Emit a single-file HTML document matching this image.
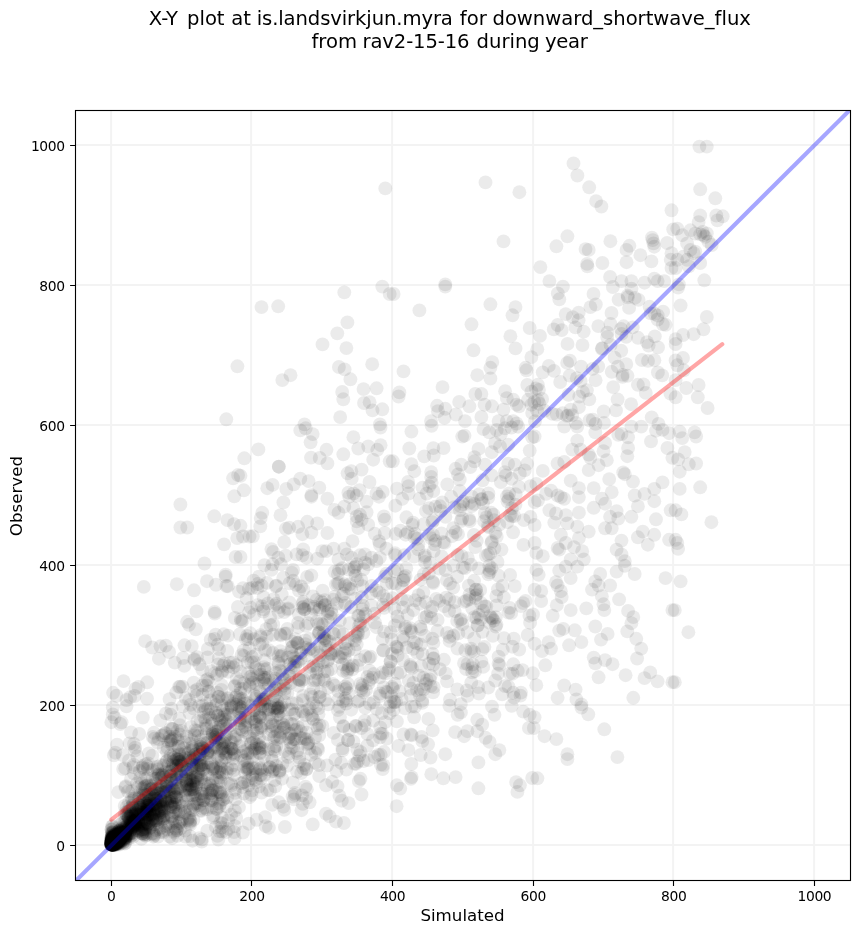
<!DOCTYPE html><html><head><meta charset="utf-8"><style>html,body{margin:0;padding:0;background:#fff}svg{display:block}text{font-family:"DejaVu Sans","Liberation Sans",sans-serif;fill:#000}</style></head><body><svg width="860" height="934" viewBox="0 0 860 934"><rect width="860" height="934" fill="#fff"/><defs><clipPath id="ax"><rect x="75.0" y="110.0" width="775.0" height="770.0"/></clipPath></defs><path d="M111.1 110.0V880.0M75.0 845.1H850.0M251.1 110.0V880.0M75.0 705.1H850.0M392.1 110.0V880.0M75.0 565.1H850.0M533.1 110.0V880.0M75.0 425.1H850.0M673.1 110.0V880.0M75.0 285.1H850.0M814.1 110.0V880.0M75.0 145.1H850.0" stroke="#b0b0b0" stroke-opacity="0.15" stroke-width="2" fill="none"/><g clip-path="url(#ax)"><g class="p" fill="#000" fill-opacity="0.08"><circle cx="483.1" cy="610.6" r="6.95"/><circle cx="125.3" cy="833.6" r="6.95"/><circle cx="200.2" cy="765.3" r="6.95"/><circle cx="429.8" cy="679.5" r="6.95"/><circle cx="310.5" cy="648.4" r="6.95"/><circle cx="200.4" cy="746.6" r="6.95"/><circle cx="133.2" cy="824.3" r="6.95"/><circle cx="111.7" cy="838.9" r="6.95"/><circle cx="522.5" cy="670.1" r="6.95"/><circle cx="665.6" cy="324.8" r="6.95"/><circle cx="252.4" cy="756.9" r="6.95"/><circle cx="376.5" cy="561" r="6.95"/><circle cx="610.4" cy="241.2" r="6.95"/><circle cx="203" cy="748.5" r="6.95"/><circle cx="147" cy="698.6" r="6.95"/><circle cx="245" cy="727.4" r="6.95"/><circle cx="311.1" cy="614.5" r="6.95"/><circle cx="113.6" cy="842.4" r="6.95"/><circle cx="218.4" cy="782.4" r="6.95"/><circle cx="347.9" cy="683.9" r="6.95"/><circle cx="610.1" cy="516.8" r="6.95"/><circle cx="114.1" cy="841.9" r="6.95"/><circle cx="174.8" cy="783.2" r="6.95"/><circle cx="116.1" cy="842.1" r="6.95"/><circle cx="187.3" cy="780.5" r="6.95"/><circle cx="192.1" cy="786.6" r="6.95"/><circle cx="449.4" cy="705.8" r="6.95"/><circle cx="114.4" cy="844.7" r="6.95"/><circle cx="217.1" cy="809" r="6.95"/><circle cx="149.9" cy="810.8" r="6.95"/><circle cx="672.4" cy="682.2" r="6.95"/><circle cx="145.9" cy="764.3" r="6.95"/><circle cx="414.1" cy="556.5" r="6.95"/><circle cx="318.6" cy="679.7" r="6.95"/><circle cx="211.2" cy="671.1" r="6.95"/><circle cx="425" cy="562" r="6.95"/><circle cx="422.2" cy="700.7" r="6.95"/><circle cx="200.2" cy="751.9" r="6.95"/><circle cx="223.8" cy="634.3" r="6.95"/><circle cx="144.2" cy="787.4" r="6.95"/><circle cx="363.5" cy="569.3" r="6.95"/><circle cx="322.9" cy="662.2" r="6.95"/><circle cx="431.3" cy="774.2" r="6.95"/><circle cx="212.2" cy="731.2" r="6.95"/><circle cx="360.5" cy="751.9" r="6.95"/><circle cx="208.6" cy="714.8" r="6.95"/><circle cx="213.5" cy="815.6" r="6.95"/><circle cx="336.9" cy="603.5" r="6.95"/><circle cx="115.1" cy="839.2" r="6.95"/><circle cx="373" cy="740.4" r="6.95"/><circle cx="114" cy="835.7" r="6.95"/><circle cx="262.1" cy="770.1" r="6.95"/><circle cx="324" cy="633" r="6.95"/><circle cx="306.2" cy="798.1" r="6.95"/><circle cx="112.2" cy="838.8" r="6.95"/><circle cx="590.4" cy="307.1" r="6.95"/><circle cx="481.4" cy="417" r="6.95"/><circle cx="116.7" cy="837.9" r="6.95"/><circle cx="544.6" cy="410.8" r="6.95"/><circle cx="221.1" cy="769" r="6.95"/><circle cx="471" cy="564.6" r="6.95"/><circle cx="237.9" cy="607" r="6.95"/><circle cx="225.6" cy="719.5" r="6.95"/><circle cx="176.5" cy="830.5" r="6.95"/><circle cx="379.8" cy="696" r="6.95"/><circle cx="132.5" cy="800.5" r="6.95"/><circle cx="516.1" cy="782.1" r="6.95"/><circle cx="289.4" cy="664.5" r="6.95"/><circle cx="292" cy="703.3" r="6.95"/><circle cx="363.5" cy="389.1" r="6.95"/><circle cx="190.2" cy="779.5" r="6.95"/><circle cx="185.8" cy="780.1" r="6.95"/><circle cx="111.3" cy="842.7" r="6.95"/><circle cx="356.7" cy="644.3" r="6.95"/><circle cx="200.7" cy="721" r="6.95"/><circle cx="562.9" cy="286.6" r="6.95"/><circle cx="345" cy="653" r="6.95"/><circle cx="537.9" cy="500.4" r="6.95"/><circle cx="559.2" cy="570.7" r="6.95"/><circle cx="255.4" cy="721.4" r="6.95"/><circle cx="293.6" cy="739.4" r="6.95"/><circle cx="186.6" cy="783.4" r="6.95"/><circle cx="137.3" cy="756.5" r="6.95"/><circle cx="252.4" cy="775.2" r="6.95"/><circle cx="580.5" cy="449.6" r="6.95"/><circle cx="126.5" cy="814.9" r="6.95"/><circle cx="217.5" cy="792.2" r="6.95"/><circle cx="614.6" cy="357.7" r="6.95"/><circle cx="629.4" cy="245.8" r="6.95"/><circle cx="167.8" cy="807.9" r="6.95"/><circle cx="410.3" cy="664.9" r="6.95"/><circle cx="158.7" cy="739" r="6.95"/><circle cx="211.3" cy="763.8" r="6.95"/><circle cx="226" cy="735.8" r="6.95"/><circle cx="197.4" cy="721.1" r="6.95"/><circle cx="216.4" cy="700.9" r="6.95"/><circle cx="261.4" cy="728.4" r="6.95"/><circle cx="233.2" cy="748.7" r="6.95"/><circle cx="518.1" cy="426.7" r="6.95"/><circle cx="115" cy="834.8" r="6.95"/><circle cx="294.3" cy="739" r="6.95"/><circle cx="588.7" cy="470.1" r="6.95"/><circle cx="389.7" cy="706.5" r="6.95"/><circle cx="291.9" cy="709.4" r="6.95"/><circle cx="227.2" cy="768.3" r="6.95"/><circle cx="120.8" cy="830.9" r="6.95"/><circle cx="669.1" cy="539.8" r="6.95"/><circle cx="643.5" cy="384.5" r="6.95"/><circle cx="316.3" cy="706.1" r="6.95"/><circle cx="514.3" cy="516.1" r="6.95"/><circle cx="267.3" cy="488.2" r="6.95"/><circle cx="241" cy="783.4" r="6.95"/><circle cx="590.4" cy="457.8" r="6.95"/><circle cx="179.9" cy="725.3" r="6.95"/><circle cx="189" cy="624.8" r="6.95"/><circle cx="353.4" cy="508.2" r="6.95"/><circle cx="118.9" cy="840.1" r="6.95"/><circle cx="519.8" cy="473.7" r="6.95"/><circle cx="159.3" cy="818.6" r="6.95"/><circle cx="533.8" cy="728" r="6.95"/><circle cx="569.9" cy="360.7" r="6.95"/><circle cx="363.3" cy="616.4" r="6.95"/><circle cx="445.3" cy="408.8" r="6.95"/><circle cx="113.4" cy="838.8" r="6.95"/><circle cx="261.9" cy="606.1" r="6.95"/><circle cx="228.6" cy="828.9" r="6.95"/><circle cx="256.5" cy="724.4" r="6.95"/><circle cx="176.1" cy="766.3" r="6.95"/><circle cx="380.5" cy="427.5" r="6.95"/><circle cx="318.7" cy="634" r="6.95"/><circle cx="130.7" cy="828.4" r="6.95"/><circle cx="127.5" cy="834.6" r="6.95"/><circle cx="120.8" cy="839" r="6.95"/><circle cx="171.1" cy="803.8" r="6.95"/><circle cx="274.5" cy="605.4" r="6.95"/><circle cx="574" cy="547.1" r="6.95"/><circle cx="250.9" cy="607.7" r="6.95"/><circle cx="541.2" cy="601.1" r="6.95"/><circle cx="111.3" cy="843.2" r="6.95"/><circle cx="700.2" cy="487.3" r="6.95"/><circle cx="621.5" cy="434" r="6.95"/><circle cx="250.2" cy="676.9" r="6.95"/><circle cx="146.2" cy="811.8" r="6.95"/><circle cx="488.3" cy="687.5" r="6.95"/><circle cx="408.5" cy="493.5" r="6.95"/><circle cx="576.4" cy="699.4" r="6.95"/><circle cx="213.2" cy="766.4" r="6.95"/><circle cx="259.2" cy="680.3" r="6.95"/><circle cx="510.1" cy="574.9" r="6.95"/><circle cx="358.8" cy="781.1" r="6.95"/><circle cx="128.9" cy="828.4" r="6.95"/><circle cx="194.5" cy="734" r="6.95"/><circle cx="264.1" cy="756.6" r="6.95"/><circle cx="284.7" cy="633.8" r="6.95"/><circle cx="633.3" cy="617.1" r="6.95"/><circle cx="179.2" cy="802.9" r="6.95"/><circle cx="233.8" cy="753.6" r="6.95"/><circle cx="240.7" cy="707.2" r="6.95"/><circle cx="435.4" cy="506.7" r="6.95"/><circle cx="175.3" cy="779.4" r="6.95"/><circle cx="215.5" cy="739.7" r="6.95"/><circle cx="430.9" cy="538.2" r="6.95"/><circle cx="478.8" cy="614.9" r="6.95"/><circle cx="688.4" cy="632.2" r="6.95"/><circle cx="336.5" cy="771.2" r="6.95"/><circle cx="219.6" cy="831.4" r="6.95"/><circle cx="164.8" cy="777.4" r="6.95"/><circle cx="116.7" cy="835.6" r="6.95"/><circle cx="268.8" cy="650.2" r="6.95"/><circle cx="414.1" cy="717.3" r="6.95"/><circle cx="184.3" cy="748.3" r="6.95"/><circle cx="392.1" cy="653.6" r="6.95"/><circle cx="146" cy="823.3" r="6.95"/><circle cx="238.1" cy="475" r="6.95"/><circle cx="271.4" cy="569.9" r="6.95"/><circle cx="264.8" cy="677.8" r="6.95"/><circle cx="240.5" cy="557" r="6.95"/><circle cx="147.2" cy="682.3" r="6.95"/><circle cx="488.4" cy="574.4" r="6.95"/><circle cx="147" cy="811.8" r="6.95"/><circle cx="379" cy="541.2" r="6.95"/><circle cx="247.3" cy="753.4" r="6.95"/><circle cx="385.3" cy="188.4" r="6.95"/><circle cx="248.1" cy="780.8" r="6.95"/><circle cx="416.4" cy="643.3" r="6.95"/><circle cx="240.5" cy="693" r="6.95"/><circle cx="222.1" cy="698.1" r="6.95"/><circle cx="111.3" cy="843.2" r="6.95"/><circle cx="112.5" cy="833.7" r="6.95"/><circle cx="164.3" cy="810.3" r="6.95"/><circle cx="506.8" cy="421.1" r="6.95"/><circle cx="158" cy="836.5" r="6.95"/><circle cx="623.6" cy="326.3" r="6.95"/><circle cx="200.1" cy="810.7" r="6.95"/><circle cx="202.6" cy="705.7" r="6.95"/><circle cx="582.2" cy="551.2" r="6.95"/><circle cx="374.8" cy="533.8" r="6.95"/><circle cx="481" cy="603" r="6.95"/><circle cx="131" cy="732.4" r="6.95"/><circle cx="152.8" cy="737" r="6.95"/><circle cx="305.7" cy="428.3" r="6.95"/><circle cx="277.2" cy="683.9" r="6.95"/><circle cx="411.9" cy="632.2" r="6.95"/><circle cx="242.9" cy="832.5" r="6.95"/><circle cx="169.3" cy="800.5" r="6.95"/><circle cx="112.3" cy="844.3" r="6.95"/><circle cx="501.5" cy="549.6" r="6.95"/><circle cx="143" cy="765.8" r="6.95"/><circle cx="117.3" cy="836.7" r="6.95"/><circle cx="483" cy="503.3" r="6.95"/><circle cx="130.8" cy="816.4" r="6.95"/><circle cx="280.7" cy="635.4" r="6.95"/><circle cx="564.2" cy="498.8" r="6.95"/><circle cx="244.4" cy="781.9" r="6.95"/><circle cx="437.9" cy="411.2" r="6.95"/><circle cx="445.4" cy="516.9" r="6.95"/><circle cx="204.7" cy="807.5" r="6.95"/><circle cx="133.1" cy="767.1" r="6.95"/><circle cx="428.4" cy="718.9" r="6.95"/><circle cx="116.7" cy="839" r="6.95"/><circle cx="346.4" cy="348.1" r="6.95"/><circle cx="150.5" cy="785.4" r="6.95"/><circle cx="165.8" cy="645.7" r="6.95"/><circle cx="112.7" cy="844.7" r="6.95"/><circle cx="246.7" cy="749.9" r="6.95"/><circle cx="145" cy="798.2" r="6.95"/><circle cx="593.7" cy="657.6" r="6.95"/><circle cx="634.7" cy="495.5" r="6.95"/><circle cx="129.3" cy="833.7" r="6.95"/><circle cx="136.4" cy="820.6" r="6.95"/><circle cx="119.1" cy="836.6" r="6.95"/><circle cx="254" cy="615" r="6.95"/><circle cx="358.3" cy="528" r="6.95"/><circle cx="243.3" cy="751.5" r="6.95"/><circle cx="224.1" cy="544.4" r="6.95"/><circle cx="401.6" cy="599.3" r="6.95"/><circle cx="112.2" cy="837.4" r="6.95"/><circle cx="119" cy="838.9" r="6.95"/><circle cx="119.5" cy="835.2" r="6.95"/><circle cx="117.3" cy="841" r="6.95"/><circle cx="142.1" cy="833.3" r="6.95"/><circle cx="120.1" cy="837.3" r="6.95"/><circle cx="611.5" cy="313" r="6.95"/><circle cx="275.1" cy="736.4" r="6.95"/><circle cx="638.6" cy="299.9" r="6.95"/><circle cx="469.4" cy="599.2" r="6.95"/><circle cx="310.5" cy="694.5" r="6.95"/><circle cx="119.7" cy="832.7" r="6.95"/><circle cx="621" cy="328.9" r="6.95"/><circle cx="454.8" cy="602.1" r="6.95"/><circle cx="265.2" cy="817.1" r="6.95"/><circle cx="145.2" cy="789.5" r="6.95"/><circle cx="116.9" cy="841.5" r="6.95"/><circle cx="112.2" cy="837.1" r="6.95"/><circle cx="180.2" cy="811.3" r="6.95"/><circle cx="298.1" cy="661.7" r="6.95"/><circle cx="489.9" cy="616.1" r="6.95"/><circle cx="215.6" cy="712.8" r="6.95"/><circle cx="328.3" cy="687.7" r="6.95"/><circle cx="251.1" cy="705.7" r="6.95"/><circle cx="262.3" cy="706.4" r="6.95"/><circle cx="260.2" cy="727.3" r="6.95"/><circle cx="394.5" cy="702.3" r="6.95"/><circle cx="134.3" cy="830.4" r="6.95"/><circle cx="221.6" cy="744.2" r="6.95"/><circle cx="131.4" cy="835.7" r="6.95"/><circle cx="207.9" cy="751.8" r="6.95"/><circle cx="299.3" cy="757.6" r="6.95"/><circle cx="235.1" cy="792.9" r="6.95"/><circle cx="222.1" cy="748.8" r="6.95"/><circle cx="252.6" cy="682.8" r="6.95"/><circle cx="223" cy="665.7" r="6.95"/><circle cx="274" cy="749.5" r="6.95"/><circle cx="360.2" cy="684" r="6.95"/><circle cx="213" cy="790.4" r="6.95"/><circle cx="225.3" cy="757.4" r="6.95"/><circle cx="403" cy="636.9" r="6.95"/><circle cx="195.7" cy="776.7" r="6.95"/><circle cx="557.6" cy="585.5" r="6.95"/><circle cx="359.2" cy="625.2" r="6.95"/><circle cx="116.4" cy="839.1" r="6.95"/><circle cx="523.5" cy="544.9" r="6.95"/><circle cx="477.3" cy="731.2" r="6.95"/><circle cx="382.7" cy="769" r="6.95"/><circle cx="116.5" cy="843" r="6.95"/><circle cx="179.5" cy="734.4" r="6.95"/><circle cx="476.9" cy="594.2" r="6.95"/><circle cx="132.7" cy="826.7" r="6.95"/><circle cx="497.5" cy="562" r="6.95"/><circle cx="147.3" cy="798.9" r="6.95"/><circle cx="433.1" cy="692.4" r="6.95"/><circle cx="354.4" cy="763.9" r="6.95"/><circle cx="268.6" cy="734.4" r="6.95"/><circle cx="210.4" cy="752.9" r="6.95"/><circle cx="469" cy="519.2" r="6.95"/><circle cx="384.1" cy="631.6" r="6.95"/><circle cx="164.6" cy="792" r="6.95"/><circle cx="163.9" cy="765.3" r="6.95"/><circle cx="324.8" cy="600.1" r="6.95"/><circle cx="431.2" cy="472.1" r="6.95"/><circle cx="120.6" cy="835.5" r="6.95"/><circle cx="135.2" cy="824.4" r="6.95"/><circle cx="368.2" cy="564.3" r="6.95"/><circle cx="677.3" cy="228.6" r="6.95"/><circle cx="595.3" cy="581.4" r="6.95"/><circle cx="210.5" cy="798.4" r="6.95"/><circle cx="383.4" cy="765.1" r="6.95"/><circle cx="481.4" cy="394" r="6.95"/><circle cx="155" cy="812.8" r="6.95"/><circle cx="207.9" cy="789.3" r="6.95"/><circle cx="379.3" cy="592.6" r="6.95"/><circle cx="481.4" cy="661.6" r="6.95"/><circle cx="621.5" cy="540.6" r="6.95"/><circle cx="259.8" cy="746.6" r="6.95"/><circle cx="361.8" cy="597.1" r="6.95"/><circle cx="186" cy="779.2" r="6.95"/><circle cx="604" cy="422.9" r="6.95"/><circle cx="671.5" cy="253.2" r="6.95"/><circle cx="120.8" cy="832" r="6.95"/><circle cx="255.4" cy="699" r="6.95"/><circle cx="216.2" cy="808.9" r="6.95"/><circle cx="263.5" cy="597.1" r="6.95"/><circle cx="376.6" cy="388.3" r="6.95"/><circle cx="121.4" cy="839.9" r="6.95"/><circle cx="460.4" cy="620.2" r="6.95"/><circle cx="199.3" cy="754.9" r="6.95"/><circle cx="355.6" cy="598.7" r="6.95"/><circle cx="356" cy="726.3" r="6.95"/><circle cx="135.2" cy="747.7" r="6.95"/><circle cx="185.5" cy="758" r="6.95"/><circle cx="221.3" cy="761.6" r="6.95"/><circle cx="111.9" cy="841.9" r="6.95"/><circle cx="207.6" cy="657.5" r="6.95"/><circle cx="171.1" cy="796.6" r="6.95"/><circle cx="527.3" cy="385" r="6.95"/><circle cx="598.6" cy="465.2" r="6.95"/><circle cx="179.7" cy="791.3" r="6.95"/><circle cx="166.2" cy="786" r="6.95"/><circle cx="354.1" cy="567.8" r="6.95"/><circle cx="112.9" cy="843.8" r="6.95"/><circle cx="122.3" cy="835" r="6.95"/><circle cx="114.7" cy="839.8" r="6.95"/><circle cx="415" cy="706.6" r="6.95"/><circle cx="593.5" cy="293.9" r="6.95"/><circle cx="125.5" cy="837.5" r="6.95"/><circle cx="132.2" cy="826.9" r="6.95"/><circle cx="292" cy="647.5" r="6.95"/><circle cx="174.5" cy="792.4" r="6.95"/><circle cx="309.3" cy="748.5" r="6.95"/><circle cx="118.4" cy="839.4" r="6.95"/><circle cx="198.4" cy="775.2" r="6.95"/><circle cx="680.6" cy="581.4" r="6.95"/><circle cx="171.5" cy="708.7" r="6.95"/><circle cx="139.4" cy="822.8" r="6.95"/><circle cx="219.9" cy="792.6" r="6.95"/><circle cx="181.6" cy="786" r="6.95"/><circle cx="351.3" cy="589.1" r="6.95"/><circle cx="379.8" cy="544.5" r="6.95"/><circle cx="203.6" cy="800.3" r="6.95"/><circle cx="485.1" cy="464.6" r="6.95"/><circle cx="155.2" cy="815.4" r="6.95"/><circle cx="322.6" cy="602.9" r="6.95"/><circle cx="278.2" cy="661.9" r="6.95"/><circle cx="153.1" cy="794.4" r="6.95"/><circle cx="239.3" cy="706.1" r="6.95"/><circle cx="180.3" cy="788" r="6.95"/><circle cx="711.7" cy="245" r="6.95"/><circle cx="111.3" cy="843.7" r="6.95"/><circle cx="402.3" cy="498.8" r="6.95"/><circle cx="380.3" cy="727.5" r="6.95"/><circle cx="601" cy="639.6" r="6.95"/><circle cx="148.2" cy="806" r="6.95"/><circle cx="119.1" cy="838.2" r="6.95"/><circle cx="498.6" cy="421.1" r="6.95"/><circle cx="239.3" cy="681.5" r="6.95"/><circle cx="178.5" cy="762.3" r="6.95"/><circle cx="494.1" cy="520.3" r="6.95"/><circle cx="654.4" cy="360.2" r="6.95"/><circle cx="207.6" cy="679.2" r="6.95"/><circle cx="114.3" cy="841.1" r="6.95"/><circle cx="147.4" cy="806" r="6.95"/><circle cx="319.2" cy="632.5" r="6.95"/><circle cx="242.7" cy="620.7" r="6.95"/><circle cx="363.5" cy="761" r="6.95"/><circle cx="295.2" cy="713.6" r="6.95"/><circle cx="260.8" cy="748.3" r="6.95"/><circle cx="471.4" cy="651.2" r="6.95"/><circle cx="355.6" cy="575.6" r="6.95"/><circle cx="226.4" cy="753.9" r="6.95"/><circle cx="311.2" cy="754.9" r="6.95"/><circle cx="319.2" cy="735.4" r="6.95"/><circle cx="111.7" cy="838.5" r="6.95"/><circle cx="118.6" cy="841.6" r="6.95"/><circle cx="114.9" cy="838.4" r="6.95"/><circle cx="233.5" cy="704" r="6.95"/><circle cx="397" cy="488.6" r="6.95"/><circle cx="129.5" cy="820.8" r="6.95"/><circle cx="267.8" cy="690.2" r="6.95"/><circle cx="157.6" cy="766.6" r="6.95"/><circle cx="111.9" cy="839.1" r="6.95"/><circle cx="503.5" cy="409.6" r="6.95"/><circle cx="418.3" cy="549.3" r="6.95"/><circle cx="382.7" cy="638.8" r="6.95"/><circle cx="223.1" cy="710.4" r="6.95"/><circle cx="251.9" cy="656.9" r="6.95"/><circle cx="260" cy="775.2" r="6.95"/><circle cx="211.7" cy="790.6" r="6.95"/><circle cx="279.6" cy="770.4" r="6.95"/><circle cx="189.6" cy="808.3" r="6.95"/><circle cx="133.5" cy="815.3" r="6.95"/><circle cx="135.4" cy="818.9" r="6.95"/><circle cx="150.7" cy="805.5" r="6.95"/><circle cx="645.8" cy="392.9" r="6.95"/><circle cx="125.4" cy="787.3" r="6.95"/><circle cx="275.3" cy="678.6" r="6.95"/><circle cx="308" cy="743.3" r="6.95"/><circle cx="163" cy="816.7" r="6.95"/><circle cx="311.3" cy="575.4" r="6.95"/><circle cx="684.7" cy="452.1" r="6.95"/><circle cx="112.7" cy="844.7" r="6.95"/><circle cx="722.7" cy="216.3" r="6.95"/><circle cx="337.9" cy="710.1" r="6.95"/><circle cx="519.9" cy="785.3" r="6.95"/><circle cx="686.3" cy="388" r="6.95"/><circle cx="449.1" cy="610.8" r="6.95"/><circle cx="399.6" cy="691.1" r="6.95"/><circle cx="138.5" cy="686.9" r="6.95"/><circle cx="142.2" cy="833.4" r="6.95"/><circle cx="624.8" cy="565.8" r="6.95"/><circle cx="308.2" cy="623.2" r="6.95"/><circle cx="295" cy="665.6" r="6.95"/><circle cx="445.3" cy="286.6" r="6.95"/><circle cx="476.8" cy="540.8" r="6.95"/><circle cx="199.1" cy="764.6" r="6.95"/><circle cx="461.3" cy="464.6" r="6.95"/><circle cx="192.9" cy="781.2" r="6.95"/><circle cx="125.1" cy="835.3" r="6.95"/><circle cx="187.4" cy="820" r="6.95"/><circle cx="272" cy="731.2" r="6.95"/><circle cx="495" cy="443.2" r="6.95"/><circle cx="578.6" cy="320.3" r="6.95"/><circle cx="227.4" cy="520.1" r="6.95"/><circle cx="495.5" cy="532.8" r="6.95"/><circle cx="131.7" cy="835.1" r="6.95"/><circle cx="292.9" cy="656.2" r="6.95"/><circle cx="137.1" cy="816.9" r="6.95"/><circle cx="114.7" cy="842.1" r="6.95"/><circle cx="371.7" cy="586" r="6.95"/><circle cx="140.5" cy="813.9" r="6.95"/><circle cx="111.8" cy="842.8" r="6.95"/><circle cx="631.4" cy="281.1" r="6.95"/><circle cx="143.8" cy="834.9" r="6.95"/><circle cx="191" cy="769.7" r="6.95"/><circle cx="605.1" cy="503.7" r="6.95"/><circle cx="509.1" cy="493.5" r="6.95"/><circle cx="188.4" cy="753.3" r="6.95"/><circle cx="534.6" cy="543" r="6.95"/><circle cx="433.4" cy="658.8" r="6.95"/><circle cx="361.6" cy="469.6" r="6.95"/><circle cx="609.2" cy="479.1" r="6.95"/><circle cx="534.6" cy="717.3" r="6.95"/><circle cx="175.4" cy="804.1" r="6.95"/><circle cx="217.6" cy="756.4" r="6.95"/><circle cx="298.7" cy="679.2" r="6.95"/><circle cx="231" cy="783.7" r="6.95"/><circle cx="626.2" cy="336.8" r="6.95"/><circle cx="221.7" cy="705.4" r="6.95"/><circle cx="311.4" cy="532.6" r="6.95"/><circle cx="275.8" cy="586.3" r="6.95"/><circle cx="491.9" cy="541.3" r="6.95"/><circle cx="115.7" cy="839.1" r="6.95"/><circle cx="115.8" cy="835.2" r="6.95"/><circle cx="112.1" cy="843.5" r="6.95"/><circle cx="559.3" cy="299.3" r="6.95"/><circle cx="342.5" cy="748.4" r="6.95"/><circle cx="223.2" cy="725.1" r="6.95"/><circle cx="218.4" cy="748.3" r="6.95"/><circle cx="133.2" cy="836.7" r="6.95"/><circle cx="258.4" cy="449.4" r="6.95"/><circle cx="143.6" cy="768.8" r="6.95"/><circle cx="575.6" cy="689.6" r="6.95"/><circle cx="208.4" cy="691.1" r="6.95"/><circle cx="112.6" cy="835.1" r="6.95"/><circle cx="565.7" cy="314.1" r="6.95"/><circle cx="114.5" cy="842" r="6.95"/><circle cx="533" cy="614.5" r="6.95"/><circle cx="180.7" cy="771.1" r="6.95"/><circle cx="226.7" cy="772.4" r="6.95"/><circle cx="455.6" cy="468.8" r="6.95"/><circle cx="112.2" cy="841.4" r="6.95"/><circle cx="567.2" cy="362.9" r="6.95"/><circle cx="230.2" cy="725.3" r="6.95"/><circle cx="152.4" cy="770.2" r="6.95"/><circle cx="247.1" cy="636" r="6.95"/><circle cx="532.2" cy="778" r="6.95"/><circle cx="122.7" cy="755.2" r="6.95"/><circle cx="458" cy="534.2" r="6.95"/><circle cx="413.8" cy="642.1" r="6.95"/><circle cx="276.8" cy="704.9" r="6.95"/><circle cx="213" cy="768.6" r="6.95"/><circle cx="478.2" cy="687" r="6.95"/><circle cx="171.9" cy="787.8" r="6.95"/><circle cx="379.6" cy="677.4" r="6.95"/><circle cx="113.5" cy="838.1" r="6.95"/><circle cx="489.7" cy="572.3" r="6.95"/><circle cx="122.9" cy="842.8" r="6.95"/><circle cx="122" cy="829.2" r="6.95"/><circle cx="583.8" cy="559.4" r="6.95"/><circle cx="430.7" cy="611.3" r="6.95"/><circle cx="287.8" cy="609.5" r="6.95"/><circle cx="454.2" cy="507.2" r="6.95"/><circle cx="433.4" cy="642.9" r="6.95"/><circle cx="193.1" cy="804.9" r="6.95"/><circle cx="682.2" cy="438.1" r="6.95"/><circle cx="442.2" cy="502.4" r="6.95"/><circle cx="222.5" cy="796.4" r="6.95"/><circle cx="511.5" cy="478.7" r="6.95"/><circle cx="170.6" cy="775.4" r="6.95"/><circle cx="184.6" cy="812" r="6.95"/><circle cx="148.2" cy="805.1" r="6.95"/><circle cx="111.3" cy="842.7" r="6.95"/><circle cx="537.4" cy="778.3" r="6.95"/><circle cx="123.2" cy="769" r="6.95"/><circle cx="506.8" cy="398.1" r="6.95"/><circle cx="161" cy="801.7" r="6.95"/><circle cx="589.5" cy="420.3" r="6.95"/><circle cx="244.3" cy="458.3" r="6.95"/><circle cx="197.3" cy="730.6" r="6.95"/><circle cx="130.7" cy="821.5" r="6.95"/><circle cx="112.7" cy="844.7" r="6.95"/><circle cx="423.6" cy="689.4" r="6.95"/><circle cx="266.5" cy="723" r="6.95"/><circle cx="126.6" cy="807.2" r="6.95"/><circle cx="508.7" cy="499" r="6.95"/><circle cx="263.2" cy="611.5" r="6.95"/><circle cx="265.1" cy="679.6" r="6.95"/><circle cx="220.5" cy="725.8" r="6.95"/><circle cx="354.6" cy="649.4" r="6.95"/><circle cx="380.8" cy="764.6" r="6.95"/><circle cx="284.4" cy="702" r="6.95"/><circle cx="163.5" cy="815.6" r="6.95"/><circle cx="126" cy="830.2" r="6.95"/><circle cx="298.9" cy="590.6" r="6.95"/><circle cx="173.2" cy="790.5" r="6.95"/><circle cx="403.1" cy="607.4" r="6.95"/><circle cx="187.4" cy="785.5" r="6.95"/><circle cx="216.8" cy="735.1" r="6.95"/><circle cx="534.6" cy="643.7" r="6.95"/><circle cx="112.7" cy="841.1" r="6.95"/><circle cx="715.3" cy="198.3" r="6.95"/><circle cx="133.2" cy="808.2" r="6.95"/><circle cx="259.9" cy="769.1" r="6.95"/><circle cx="147.4" cy="814.9" r="6.95"/><circle cx="431.6" cy="425.8" r="6.95"/><circle cx="344.3" cy="292.4" r="6.95"/><circle cx="215.9" cy="827.2" r="6.95"/><circle cx="293.1" cy="569.9" r="6.95"/><circle cx="124.7" cy="839.7" r="6.95"/><circle cx="316.9" cy="621.7" r="6.95"/><circle cx="224.2" cy="743.6" r="6.95"/><circle cx="257.4" cy="587.9" r="6.95"/><circle cx="269" cy="684.8" r="6.95"/><circle cx="140.4" cy="806" r="6.95"/><circle cx="203" cy="751.2" r="6.95"/><circle cx="129" cy="813.5" r="6.95"/><circle cx="195" cy="803.6" r="6.95"/><circle cx="217.3" cy="692.8" r="6.95"/><circle cx="195.1" cy="730.2" r="6.95"/><circle cx="283.4" cy="502.4" r="6.95"/><circle cx="114.8" cy="839.5" r="6.95"/><circle cx="240.7" cy="688.7" r="6.95"/><circle cx="117.6" cy="840.1" r="6.95"/><circle cx="118.8" cy="842.3" r="6.95"/><circle cx="140.6" cy="825.3" r="6.95"/><circle cx="157.1" cy="818.1" r="6.95"/><circle cx="636.3" cy="638.8" r="6.95"/><circle cx="385" cy="576.4" r="6.95"/><circle cx="227.2" cy="697.7" r="6.95"/><circle cx="433.7" cy="687.1" r="6.95"/><circle cx="411.3" cy="764" r="6.95"/><circle cx="616.6" cy="511.1" r="6.95"/><circle cx="115.4" cy="834.8" r="6.95"/><circle cx="167.6" cy="747.9" r="6.95"/><circle cx="234.2" cy="752.4" r="6.95"/><circle cx="588.3" cy="714.3" r="6.95"/><circle cx="192.5" cy="795.2" r="6.95"/><circle cx="278.8" cy="466.7" r="6.95"/><circle cx="335.9" cy="584.5" r="6.95"/><circle cx="120" cy="839.3" r="6.95"/><circle cx="192.9" cy="773.2" r="6.95"/><circle cx="307.1" cy="577" r="6.95"/><circle cx="240.5" cy="525.8" r="6.95"/><circle cx="121.7" cy="834.3" r="6.95"/><circle cx="126.4" cy="828" r="6.95"/><circle cx="161.6" cy="787" r="6.95"/><circle cx="177.2" cy="774.5" r="6.95"/><circle cx="144.5" cy="831" r="6.95"/><circle cx="141.3" cy="831.6" r="6.95"/><circle cx="310.6" cy="442.3" r="6.95"/><circle cx="394.9" cy="625.5" r="6.95"/><circle cx="187.2" cy="527.5" r="6.95"/><circle cx="264.4" cy="703.6" r="6.95"/><circle cx="602.3" cy="348.2" r="6.95"/><circle cx="126.9" cy="830.4" r="6.95"/><circle cx="275" cy="726" r="6.95"/><circle cx="556" cy="582.2" r="6.95"/><circle cx="117.2" cy="836.6" r="6.95"/><circle cx="250.3" cy="633.3" r="6.95"/><circle cx="277" cy="715" r="6.95"/><circle cx="249.7" cy="736.4" r="6.95"/><circle cx="331.1" cy="669.2" r="6.95"/><circle cx="244.6" cy="720.1" r="6.95"/><circle cx="403.2" cy="660.1" r="6.95"/><circle cx="270" cy="790.4" r="6.95"/><circle cx="171.7" cy="771" r="6.95"/><circle cx="111.8" cy="832.4" r="6.95"/><circle cx="233.9" cy="774.7" r="6.95"/><circle cx="178.2" cy="746.4" r="6.95"/><circle cx="338.3" cy="691.1" r="6.95"/><circle cx="583.7" cy="331.6" r="6.95"/><circle cx="415.1" cy="600.3" r="6.95"/><circle cx="264.1" cy="701.7" r="6.95"/><circle cx="282.4" cy="763.7" r="6.95"/><circle cx="166.4" cy="791.6" r="6.95"/><circle cx="115.9" cy="844.7" r="6.95"/><circle cx="677.3" cy="259.8" r="6.95"/><circle cx="530.4" cy="516.9" r="6.95"/><circle cx="369.6" cy="703.7" r="6.95"/><circle cx="618.6" cy="299.7" r="6.95"/><circle cx="258.9" cy="576.7" r="6.95"/><circle cx="166.9" cy="785.4" r="6.95"/><circle cx="222.3" cy="831.5" r="6.95"/><circle cx="278.4" cy="557.7" r="6.95"/><circle cx="580.6" cy="380.9" r="6.95"/><circle cx="197.7" cy="778.8" r="6.95"/><circle cx="121.8" cy="836.8" r="6.95"/><circle cx="118.3" cy="837.5" r="6.95"/><circle cx="160.5" cy="786" r="6.95"/><circle cx="112.6" cy="839.5" r="6.95"/><circle cx="683.8" cy="256.5" r="6.95"/><circle cx="317.2" cy="558.6" r="6.95"/><circle cx="113.6" cy="844.5" r="6.95"/><circle cx="171.5" cy="815.9" r="6.95"/><circle cx="111.3" cy="842.4" r="6.95"/><circle cx="289.5" cy="583.3" r="6.95"/><circle cx="433.5" cy="658.1" r="6.95"/><circle cx="441.5" cy="533.4" r="6.95"/><circle cx="354.1" cy="571.2" r="6.95"/><circle cx="111.4" cy="842.9" r="6.95"/><circle cx="252.3" cy="675.3" r="6.95"/><circle cx="256.6" cy="744.4" r="6.95"/><circle cx="128.7" cy="818.4" r="6.95"/><circle cx="293.4" cy="667.2" r="6.95"/><circle cx="121.6" cy="722.3" r="6.95"/><circle cx="617.6" cy="399.5" r="6.95"/><circle cx="142" cy="783.6" r="6.95"/><circle cx="588.7" cy="454.5" r="6.95"/><circle cx="489.4" cy="570.2" r="6.95"/><circle cx="117.4" cy="836.7" r="6.95"/><circle cx="231.2" cy="814.8" r="6.95"/><circle cx="148" cy="824" r="6.95"/><circle cx="341.1" cy="762.8" r="6.95"/><circle cx="200.4" cy="765.5" r="6.95"/><circle cx="111.5" cy="841.7" r="6.95"/><circle cx="578.9" cy="512.7" r="6.95"/><circle cx="127.2" cy="833.3" r="6.95"/><circle cx="334.9" cy="685.6" r="6.95"/><circle cx="221.6" cy="827.5" r="6.95"/><circle cx="394.5" cy="608.7" r="6.95"/><circle cx="197.4" cy="777" r="6.95"/><circle cx="648" cy="360.9" r="6.95"/><circle cx="688.8" cy="266.3" r="6.95"/><circle cx="160.4" cy="819.1" r="6.95"/><circle cx="461.2" cy="619.2" r="6.95"/><circle cx="240.3" cy="671.6" r="6.95"/><circle cx="260.3" cy="526.4" r="6.95"/><circle cx="283.4" cy="806.7" r="6.95"/><circle cx="507.3" cy="522" r="6.95"/><circle cx="129" cy="802.6" r="6.95"/><circle cx="576.8" cy="378.2" r="6.95"/><circle cx="112.5" cy="840.1" r="6.95"/><circle cx="347.6" cy="473.3" r="6.95"/><circle cx="344.3" cy="506.6" r="6.95"/><circle cx="422.4" cy="702.8" r="6.95"/><circle cx="253.6" cy="722.3" r="6.95"/><circle cx="118.7" cy="837.8" r="6.95"/><circle cx="367.3" cy="745.7" r="6.95"/><circle cx="281.5" cy="705.4" r="6.95"/><circle cx="578.9" cy="497.1" r="6.95"/><circle cx="113.3" cy="844" r="6.95"/><circle cx="462.4" cy="624.2" r="6.95"/><circle cx="508.4" cy="612.6" r="6.95"/><circle cx="475.5" cy="598.1" r="6.95"/><circle cx="280.7" cy="706.8" r="6.95"/><circle cx="124.2" cy="828" r="6.95"/><circle cx="116.6" cy="839.6" r="6.95"/><circle cx="245" cy="725.9" r="6.95"/><circle cx="189.3" cy="757.3" r="6.95"/><circle cx="172.4" cy="764.5" r="6.95"/><circle cx="134.2" cy="821.7" r="6.95"/><circle cx="216.2" cy="712.9" r="6.95"/><circle cx="400.5" cy="530.7" r="6.95"/><circle cx="138.1" cy="825" r="6.95"/><circle cx="165.5" cy="825.9" r="6.95"/><circle cx="113.3" cy="842.1" r="6.95"/><circle cx="118.9" cy="836" r="6.95"/><circle cx="112.1" cy="843.4" r="6.95"/><circle cx="662.2" cy="375.4" r="6.95"/><circle cx="618.3" cy="434.8" r="6.95"/><circle cx="683" cy="335" r="6.95"/><circle cx="290.5" cy="664.1" r="6.95"/><circle cx="206.1" cy="725.5" r="6.95"/><circle cx="301.8" cy="680.7" r="6.95"/><circle cx="560.2" cy="382" r="6.95"/><circle cx="530.5" cy="486.1" r="6.95"/><circle cx="531.4" cy="404.7" r="6.95"/><circle cx="210.9" cy="708.6" r="6.95"/><circle cx="179.8" cy="761.5" r="6.95"/><circle cx="654.3" cy="488.9" r="6.95"/><circle cx="241.5" cy="729.4" r="6.95"/><circle cx="343.3" cy="399.3" r="6.95"/><circle cx="180.7" cy="765.3" r="6.95"/><circle cx="194.5" cy="735.5" r="6.95"/><circle cx="288.1" cy="738.5" r="6.95"/><circle cx="111.3" cy="844.2" r="6.95"/><circle cx="390.6" cy="632.1" r="6.95"/><circle cx="319.9" cy="607.6" r="6.95"/><circle cx="118.8" cy="835.9" r="6.95"/><circle cx="292" cy="641.5" r="6.95"/><circle cx="128.6" cy="811.1" r="6.95"/><circle cx="129.1" cy="760.5" r="6.95"/><circle cx="117.5" cy="842.8" r="6.95"/><circle cx="125" cy="812.9" r="6.95"/><circle cx="207.3" cy="753" r="6.95"/><circle cx="163.1" cy="818.9" r="6.95"/><circle cx="344.9" cy="658.6" r="6.95"/><circle cx="624.8" cy="561.1" r="6.95"/><circle cx="618.3" cy="518.5" r="6.95"/><circle cx="247.5" cy="662.3" r="6.95"/><circle cx="220" cy="804.2" r="6.95"/><circle cx="119.9" cy="832.8" r="6.95"/><circle cx="191.4" cy="787.4" r="6.95"/><circle cx="131.9" cy="791.2" r="6.95"/><circle cx="111.7" cy="844.5" r="6.95"/><circle cx="548.6" cy="642.1" r="6.95"/><circle cx="119.2" cy="836.1" r="6.95"/><circle cx="432.5" cy="607" r="6.95"/><circle cx="117.4" cy="839.1" r="6.95"/><circle cx="176.3" cy="797.3" r="6.95"/><circle cx="190.3" cy="824.4" r="6.95"/><circle cx="403.6" cy="639.7" r="6.95"/><circle cx="127.6" cy="815.8" r="6.95"/><circle cx="633" cy="481.6" r="6.95"/><circle cx="136.2" cy="814.5" r="6.95"/><circle cx="376.6" cy="708.8" r="6.95"/><circle cx="411.7" cy="706.6" r="6.95"/><circle cx="233.5" cy="765" r="6.95"/><circle cx="458.4" cy="633.4" r="6.95"/><circle cx="219.2" cy="806.7" r="6.95"/><circle cx="239.7" cy="746.2" r="6.95"/><circle cx="245.5" cy="717.1" r="6.95"/><circle cx="513.8" cy="638.6" r="6.95"/><circle cx="241.2" cy="621.4" r="6.95"/><circle cx="196.5" cy="765.2" r="6.95"/><circle cx="413" cy="522.6" r="6.95"/><circle cx="112.4" cy="842" r="6.95"/><circle cx="511.7" cy="705.8" r="6.95"/><circle cx="168.9" cy="776.7" r="6.95"/><circle cx="293.8" cy="799.4" r="6.95"/><circle cx="515.7" cy="494.3" r="6.95"/><circle cx="211.5" cy="723.9" r="6.95"/><circle cx="171.2" cy="798" r="6.95"/><circle cx="137.1" cy="783.4" r="6.95"/><circle cx="143.4" cy="800.8" r="6.95"/><circle cx="177.4" cy="789.1" r="6.95"/><circle cx="115" cy="843.9" r="6.95"/><circle cx="143.9" cy="804.1" r="6.95"/><circle cx="326.6" cy="640.4" r="6.95"/><circle cx="690.4" cy="230.3" r="6.95"/><circle cx="398.6" cy="396.5" r="6.95"/><circle cx="180.4" cy="504.5" r="6.95"/><circle cx="302.4" cy="555.3" r="6.95"/><circle cx="145.6" cy="832" r="6.95"/><circle cx="112.9" cy="842.1" r="6.95"/><circle cx="443.3" cy="778.3" r="6.95"/><circle cx="111.4" cy="837.7" r="6.95"/><circle cx="460.8" cy="704.1" r="6.95"/><circle cx="171" cy="742" r="6.95"/><circle cx="241.7" cy="654.9" r="6.95"/><circle cx="148.8" cy="753.5" r="6.95"/><circle cx="240.5" cy="475.8" r="6.95"/><circle cx="269.7" cy="766.9" r="6.95"/><circle cx="158.1" cy="808.3" r="6.95"/><circle cx="140.5" cy="814.6" r="6.95"/><circle cx="195.8" cy="777.8" r="6.95"/><circle cx="273" cy="700.4" r="6.95"/><circle cx="180" cy="821.9" r="6.95"/><circle cx="334.4" cy="509.9" r="6.95"/><circle cx="475.7" cy="595.5" r="6.95"/><circle cx="167.2" cy="760.6" r="6.95"/><circle cx="324.5" cy="605.5" r="6.95"/><circle cx="261.5" cy="307.1" r="6.95"/><circle cx="250.9" cy="744" r="6.95"/><circle cx="605.1" cy="660.1" r="6.95"/><circle cx="568.2" cy="415.4" r="6.95"/><circle cx="671.5" cy="210.3" r="6.95"/><circle cx="484.4" cy="646.9" r="6.95"/><circle cx="221.5" cy="772.8" r="6.95"/><circle cx="538.9" cy="389.9" r="6.95"/><circle cx="111.3" cy="844.7" r="6.95"/><circle cx="610.1" cy="277" r="6.95"/><circle cx="119.1" cy="839.7" r="6.95"/><circle cx="478.9" cy="693.5" r="6.95"/><circle cx="176.5" cy="777.7" r="6.95"/><circle cx="383.3" cy="650.5" r="6.95"/><circle cx="492" cy="706.6" r="6.95"/><circle cx="302.4" cy="534.2" r="6.95"/><circle cx="248.3" cy="767.7" r="6.95"/><circle cx="150.1" cy="811.2" r="6.95"/><circle cx="305.8" cy="625.9" r="6.95"/><circle cx="125" cy="832.6" r="6.95"/><circle cx="602.4" cy="263" r="6.95"/><circle cx="237.2" cy="538.1" r="6.95"/><circle cx="174.7" cy="797.2" r="6.95"/><circle cx="492" cy="406.3" r="6.95"/><circle cx="123.6" cy="829.6" r="6.95"/><circle cx="191.6" cy="739.9" r="6.95"/><circle cx="112.2" cy="833.6" r="6.95"/><circle cx="303" cy="696" r="6.95"/><circle cx="257.2" cy="732.9" r="6.95"/><circle cx="510" cy="515" r="6.95"/><circle cx="194.1" cy="767.4" r="6.95"/><circle cx="113.1" cy="692.8" r="6.95"/><circle cx="285.8" cy="555.7" r="6.95"/><circle cx="218.2" cy="731.2" r="6.95"/><circle cx="227.8" cy="586.2" r="6.95"/><circle cx="349.6" cy="584.3" r="6.95"/><circle cx="368.5" cy="683.3" r="6.95"/><circle cx="263.4" cy="609.3" r="6.95"/><circle cx="276.3" cy="746" r="6.95"/><circle cx="492.8" cy="635.9" r="6.95"/><circle cx="134.3" cy="796.3" r="6.95"/><circle cx="556.4" cy="739.1" r="6.95"/><circle cx="225.1" cy="741.8" r="6.95"/><circle cx="478.8" cy="568.4" r="6.95"/><circle cx="204.5" cy="563.5" r="6.95"/><circle cx="348.7" cy="569.6" r="6.95"/><circle cx="662.5" cy="482.4" r="6.95"/><circle cx="260" cy="691.7" r="6.95"/><circle cx="542.8" cy="470.9" r="6.95"/><circle cx="482.3" cy="649.3" r="6.95"/><circle cx="246.6" cy="598.3" r="6.95"/><circle cx="150.9" cy="823.1" r="6.95"/><circle cx="177.6" cy="730.9" r="6.95"/><circle cx="690.4" cy="249.9" r="6.95"/><circle cx="495.8" cy="626.5" r="6.95"/><circle cx="504.9" cy="428.3" r="6.95"/><circle cx="339.9" cy="717.3" r="6.95"/><circle cx="611.7" cy="528.3" r="6.95"/><circle cx="231.6" cy="749.1" r="6.95"/><circle cx="259.8" cy="717" r="6.95"/><circle cx="410.9" cy="630.8" r="6.95"/><circle cx="160" cy="802.1" r="6.95"/><circle cx="244.3" cy="703.5" r="6.95"/><circle cx="143.1" cy="795.8" r="6.95"/><circle cx="249.1" cy="612.1" r="6.95"/><circle cx="366.6" cy="501.6" r="6.95"/><circle cx="117" cy="832.9" r="6.95"/><circle cx="483.2" cy="666.9" r="6.95"/><circle cx="181.8" cy="777" r="6.95"/><circle cx="467.9" cy="558.2" r="6.95"/><circle cx="176.6" cy="758.9" r="6.95"/><circle cx="228.6" cy="666.5" r="6.95"/><circle cx="526.4" cy="370.3" r="6.95"/><circle cx="675.6" cy="397.3" r="6.95"/><circle cx="376.4" cy="627.2" r="6.95"/><circle cx="121.4" cy="833" r="6.95"/><circle cx="418.4" cy="544.3" r="6.95"/><circle cx="120.3" cy="838.4" r="6.95"/><circle cx="529.7" cy="714.8" r="6.95"/><circle cx="149.6" cy="825.9" r="6.95"/><circle cx="124.8" cy="815.8" r="6.95"/><circle cx="252.8" cy="738.6" r="6.95"/><circle cx="423.7" cy="524.3" r="6.95"/><circle cx="651.7" cy="417.4" r="6.95"/><circle cx="503.8" cy="597.3" r="6.95"/><circle cx="173.7" cy="812.3" r="6.95"/><circle cx="611.7" cy="371.8" r="6.95"/><circle cx="505.1" cy="686" r="6.95"/><circle cx="111.7" cy="836.2" r="6.95"/><circle cx="116.1" cy="844.7" r="6.95"/><circle cx="298" cy="622.9" r="6.95"/><circle cx="406.3" cy="568.2" r="6.95"/><circle cx="219.1" cy="696.7" r="6.95"/><circle cx="294.5" cy="658.3" r="6.95"/><circle cx="595.8" cy="304.5" r="6.95"/><circle cx="508.2" cy="444.8" r="6.95"/><circle cx="347.4" cy="322.4" r="6.95"/><circle cx="277.9" cy="708.5" r="6.95"/><circle cx="675.6" cy="344" r="6.95"/><circle cx="132.9" cy="822.3" r="6.95"/><circle cx="674.8" cy="682.2" r="6.95"/><circle cx="469.4" cy="594.8" r="6.95"/><circle cx="291.2" cy="733.8" r="6.95"/><circle cx="696.1" cy="436.5" r="6.95"/><circle cx="313.6" cy="649.7" r="6.95"/><circle cx="247.7" cy="721.9" r="6.95"/><circle cx="154.9" cy="807.4" r="6.95"/><circle cx="146.9" cy="822.1" r="6.95"/><circle cx="261.1" cy="775" r="6.95"/><circle cx="262.3" cy="699.7" r="6.95"/><circle cx="508.5" cy="686.7" r="6.95"/><circle cx="129.9" cy="821.4" r="6.95"/><circle cx="435.3" cy="540.6" r="6.95"/><circle cx="280.3" cy="651.1" r="6.95"/><circle cx="115.3" cy="752.7" r="6.95"/><circle cx="346.4" cy="769.6" r="6.95"/><circle cx="411.4" cy="464.2" r="6.95"/><circle cx="111.4" cy="844.4" r="6.95"/><circle cx="140.3" cy="777.9" r="6.95"/><circle cx="431.4" cy="618.2" r="6.95"/><circle cx="111.5" cy="840.3" r="6.95"/><circle cx="382.3" cy="286.6" r="6.95"/><circle cx="463" cy="504" r="6.95"/><circle cx="497.9" cy="589.5" r="6.95"/><circle cx="301.8" cy="711.3" r="6.95"/><circle cx="519" cy="486.9" r="6.95"/><circle cx="116.9" cy="840.6" r="6.95"/><circle cx="260.7" cy="518.1" r="6.95"/><circle cx="123.6" cy="839.5" r="6.95"/><circle cx="265.1" cy="710" r="6.95"/><circle cx="296.3" cy="729.8" r="6.95"/><circle cx="112.7" cy="842" r="6.95"/><circle cx="288.9" cy="737.3" r="6.95"/><circle cx="206.9" cy="809.3" r="6.95"/><circle cx="662.5" cy="429.9" r="6.95"/><circle cx="374.9" cy="622.5" r="6.95"/><circle cx="112" cy="843.7" r="6.95"/><circle cx="453.3" cy="587.6" r="6.95"/><circle cx="163.7" cy="747.7" r="6.95"/><circle cx="115.4" cy="843" r="6.95"/><circle cx="162.5" cy="801" r="6.95"/><circle cx="234.9" cy="810.7" r="6.95"/><circle cx="220.3" cy="768.3" r="6.95"/><circle cx="706.8" cy="317" r="6.95"/><circle cx="160.3" cy="797" r="6.95"/><circle cx="187.6" cy="789.2" r="6.95"/><circle cx="184.9" cy="813.4" r="6.95"/><circle cx="364.9" cy="562.7" r="6.95"/><circle cx="178" cy="740.8" r="6.95"/><circle cx="252.5" cy="750.5" r="6.95"/><circle cx="111.9" cy="840.4" r="6.95"/><circle cx="270.5" cy="625.2" r="6.95"/><circle cx="697.8" cy="397.3" r="6.95"/><circle cx="115.8" cy="842.2" r="6.95"/><circle cx="116.6" cy="838.6" r="6.95"/><circle cx="165.9" cy="788.7" r="6.95"/><circle cx="134.8" cy="750.6" r="6.95"/><circle cx="350.4" cy="379.3" r="6.95"/><circle cx="678.1" cy="459.4" r="6.95"/><circle cx="147.2" cy="813.9" r="6.95"/><circle cx="120.4" cy="837.1" r="6.95"/><circle cx="593.7" cy="488.1" r="6.95"/><circle cx="122" cy="827.9" r="6.95"/><circle cx="212.5" cy="733.8" r="6.95"/><circle cx="190.3" cy="821.3" r="6.95"/><circle cx="402" cy="587.5" r="6.95"/><circle cx="478.4" cy="788.3" r="6.95"/><circle cx="121.2" cy="835" r="6.95"/><circle cx="142.7" cy="829.4" r="6.95"/><circle cx="132.4" cy="821.5" r="6.95"/><circle cx="129" cy="835.8" r="6.95"/><circle cx="118.4" cy="792.1" r="6.95"/><circle cx="535" cy="421.3" r="6.95"/><circle cx="343.5" cy="726.6" r="6.95"/><circle cx="139.2" cy="734" r="6.95"/><circle cx="146.7" cy="795" r="6.95"/><circle cx="241.7" cy="707.3" r="6.95"/><circle cx="488.6" cy="527.2" r="6.95"/><circle cx="268.2" cy="677.3" r="6.95"/><circle cx="299.6" cy="761.6" r="6.95"/><circle cx="306.5" cy="739.2" r="6.95"/><circle cx="703.5" cy="235.2" r="6.95"/><circle cx="440.9" cy="510.9" r="6.95"/><circle cx="221.6" cy="760.4" r="6.95"/><circle cx="161.7" cy="735.6" r="6.95"/><circle cx="489.2" cy="565.8" r="6.95"/><circle cx="185.7" cy="698.2" r="6.95"/><circle cx="537.3" cy="349.2" r="6.95"/><circle cx="217.9" cy="803.4" r="6.95"/><circle cx="205.5" cy="720.1" r="6.95"/><circle cx="182.2" cy="764.7" r="6.95"/><circle cx="289" cy="753.6" r="6.95"/><circle cx="138.5" cy="830.3" r="6.95"/><circle cx="282.9" cy="724.3" r="6.95"/><circle cx="114.6" cy="717.6" r="6.95"/><circle cx="276.2" cy="603.8" r="6.95"/><circle cx="141.8" cy="809.4" r="6.95"/><circle cx="143.1" cy="800" r="6.95"/><circle cx="221.4" cy="689.9" r="6.95"/><circle cx="239" cy="591.6" r="6.95"/><circle cx="219.8" cy="791.8" r="6.95"/><circle cx="581.1" cy="366.6" r="6.95"/><circle cx="491.3" cy="512.8" r="6.95"/><circle cx="247.9" cy="754.1" r="6.95"/><circle cx="165.3" cy="800.5" r="6.95"/><circle cx="348.7" cy="650" r="6.95"/><circle cx="221.5" cy="685.1" r="6.95"/><circle cx="477.9" cy="625.5" r="6.95"/><circle cx="115.2" cy="839.2" r="6.95"/><circle cx="368.9" cy="658" r="6.95"/><circle cx="351.7" cy="557.7" r="6.95"/><circle cx="385.3" cy="722.2" r="6.95"/><circle cx="120.2" cy="835.3" r="6.95"/><circle cx="171" cy="806.8" r="6.95"/><circle cx="554.3" cy="522.6" r="6.95"/><circle cx="260.1" cy="701.6" r="6.95"/><circle cx="462.2" cy="436.6" r="6.95"/><circle cx="570.7" cy="409.6" r="6.95"/><circle cx="410.3" cy="628.2" r="6.95"/><circle cx="425.7" cy="683.9" r="6.95"/><circle cx="156.8" cy="799.4" r="6.95"/><circle cx="654.3" cy="246.7" r="6.95"/><circle cx="215.5" cy="735" r="6.95"/><circle cx="235.6" cy="557" r="6.95"/><circle cx="159.2" cy="829" r="6.95"/><circle cx="192.5" cy="840.7" r="6.95"/><circle cx="693.7" cy="334.2" r="6.95"/><circle cx="384.7" cy="533" r="6.95"/><circle cx="279.5" cy="770.8" r="6.95"/><circle cx="384.3" cy="607.8" r="6.95"/><circle cx="211.8" cy="800" r="6.95"/><circle cx="485.9" cy="555.6" r="6.95"/><circle cx="537.9" cy="384.8" r="6.95"/><circle cx="462.7" cy="567.5" r="6.95"/><circle cx="190.1" cy="743.6" r="6.95"/><circle cx="315" cy="737.4" r="6.95"/><circle cx="223.4" cy="752.3" r="6.95"/><circle cx="373.2" cy="720.5" r="6.95"/><circle cx="195.2" cy="757.5" r="6.95"/><circle cx="331.2" cy="654.4" r="6.95"/><circle cx="261.6" cy="792.6" r="6.95"/><circle cx="176.6" cy="766.3" r="6.95"/><circle cx="142.4" cy="788.4" r="6.95"/><circle cx="260.1" cy="703.2" r="6.95"/><circle cx="248.9" cy="588.7" r="6.95"/><circle cx="708.4" cy="241.7" r="6.95"/><circle cx="392.6" cy="598.2" r="6.95"/><circle cx="171.5" cy="801.1" r="6.95"/><circle cx="698.6" cy="385" r="6.95"/><circle cx="111.7" cy="843.3" r="6.95"/><circle cx="149.1" cy="817.3" r="6.95"/><circle cx="577.4" cy="175.5" r="6.95"/><circle cx="220.8" cy="794.4" r="6.95"/><circle cx="321.2" cy="601.4" r="6.95"/><circle cx="160.8" cy="806.3" r="6.95"/><circle cx="156" cy="820.2" r="6.95"/><circle cx="154.1" cy="834.4" r="6.95"/><circle cx="439.3" cy="568.5" r="6.95"/><circle cx="202.6" cy="694.6" r="6.95"/><circle cx="548.8" cy="365.9" r="6.95"/><circle cx="433.2" cy="535.1" r="6.95"/><circle cx="116.4" cy="836.8" r="6.95"/><circle cx="177.6" cy="826.3" r="6.95"/><circle cx="289.2" cy="676.4" r="6.95"/><circle cx="144.4" cy="821.2" r="6.95"/><circle cx="380" cy="737.4" r="6.95"/><circle cx="280.3" cy="634.4" r="6.95"/><circle cx="158.3" cy="774.7" r="6.95"/><circle cx="130.1" cy="825" r="6.95"/><circle cx="388.6" cy="670.2" r="6.95"/><circle cx="246.5" cy="768.8" r="6.95"/><circle cx="111.3" cy="844.7" r="6.95"/><circle cx="357.1" cy="665.7" r="6.95"/><circle cx="163.4" cy="792.2" r="6.95"/><circle cx="131.9" cy="823.1" r="6.95"/><circle cx="408.5" cy="486.1" r="6.95"/><circle cx="279.5" cy="772.1" r="6.95"/><circle cx="112.8" cy="714.4" r="6.95"/><circle cx="158" cy="805.3" r="6.95"/><circle cx="319.4" cy="632.5" r="6.95"/><circle cx="153.6" cy="814.6" r="6.95"/><circle cx="139.4" cy="797.3" r="6.95"/><circle cx="119.2" cy="833.5" r="6.95"/><circle cx="172" cy="838.2" r="6.95"/><circle cx="203" cy="800.3" r="6.95"/><circle cx="239.4" cy="698.1" r="6.95"/><circle cx="291.2" cy="651.3" r="6.95"/><circle cx="642.8" cy="531.6" r="6.95"/><circle cx="294.4" cy="730.1" r="6.95"/><circle cx="621.5" cy="333.9" r="6.95"/><circle cx="346.2" cy="703.6" r="6.95"/><circle cx="327.9" cy="611.2" r="6.95"/><circle cx="408.1" cy="482" r="6.95"/><circle cx="282.1" cy="778.7" r="6.95"/><circle cx="113.6" cy="844.7" r="6.95"/><circle cx="228" cy="635.6" r="6.95"/><circle cx="277.4" cy="731.5" r="6.95"/><circle cx="374.5" cy="757" r="6.95"/><circle cx="277.5" cy="701.3" r="6.95"/><circle cx="178.6" cy="747" r="6.95"/><circle cx="192.1" cy="747" r="6.95"/><circle cx="113.7" cy="841.3" r="6.95"/><circle cx="118.4" cy="837.9" r="6.95"/><circle cx="433.7" cy="455.5" r="6.95"/><circle cx="150.4" cy="827.3" r="6.95"/><circle cx="111.5" cy="840.5" r="6.95"/><circle cx="231.7" cy="707.8" r="6.95"/><circle cx="429.1" cy="508.1" r="6.95"/><circle cx="478.4" cy="762.4" r="6.95"/><circle cx="231.2" cy="705.6" r="6.95"/><circle cx="178.8" cy="765.5" r="6.95"/><circle cx="304.5" cy="424.4" r="6.95"/><circle cx="460.8" cy="521.1" r="6.95"/><circle cx="113.4" cy="844.7" r="6.95"/><circle cx="278.2" cy="714.5" r="6.95"/><circle cx="510.4" cy="336.2" r="6.95"/><circle cx="182" cy="763.7" r="6.95"/><circle cx="188" cy="760.6" r="6.95"/><circle cx="213.7" cy="767.5" r="6.95"/><circle cx="115.8" cy="837.4" r="6.95"/><circle cx="556.4" cy="246.3" r="6.95"/><circle cx="210.7" cy="639.7" r="6.95"/><circle cx="318.2" cy="749.5" r="6.95"/><circle cx="280.6" cy="671.4" r="6.95"/><circle cx="259" cy="737.6" r="6.95"/><circle cx="116.1" cy="842.6" r="6.95"/><circle cx="180.4" cy="527.5" r="6.95"/><circle cx="235.5" cy="799.4" r="6.95"/><circle cx="202.7" cy="748.4" r="6.95"/><circle cx="153" cy="778.5" r="6.95"/><circle cx="196" cy="753.9" r="6.95"/><circle cx="251.3" cy="718.9" r="6.95"/><circle cx="264.5" cy="774.8" r="6.95"/><circle cx="156.9" cy="768.2" r="6.95"/><circle cx="154.8" cy="798" r="6.95"/><circle cx="192.9" cy="789.1" r="6.95"/><circle cx="368.3" cy="760.1" r="6.95"/><circle cx="258.9" cy="786.6" r="6.95"/><circle cx="119.7" cy="842.9" r="6.95"/><circle cx="125.9" cy="824.3" r="6.95"/><circle cx="278.8" cy="663.9" r="6.95"/><circle cx="644.5" cy="493.9" r="6.95"/><circle cx="113.6" cy="844.7" r="6.95"/><circle cx="338.6" cy="656.8" r="6.95"/><circle cx="552.7" cy="615.8" r="6.95"/><circle cx="295" cy="661.7" r="6.95"/><circle cx="349.7" cy="623.2" r="6.95"/><circle cx="215.8" cy="768.2" r="6.95"/><circle cx="202.5" cy="685.6" r="6.95"/><circle cx="476" cy="589.6" r="6.95"/><circle cx="271.4" cy="549.1" r="6.95"/><circle cx="164.3" cy="792.6" r="6.95"/><circle cx="267.3" cy="790" r="6.95"/><circle cx="204.6" cy="797" r="6.95"/><circle cx="516.6" cy="404.7" r="6.95"/><circle cx="299" cy="614.5" r="6.95"/><circle cx="420.2" cy="626.7" r="6.95"/><circle cx="393.6" cy="709.9" r="6.95"/><circle cx="111.6" cy="843.8" r="6.95"/><circle cx="362.4" cy="609.3" r="6.95"/><circle cx="181.4" cy="806.2" r="6.95"/><circle cx="466.5" cy="600.8" r="6.95"/><circle cx="291.3" cy="723.8" r="6.95"/><circle cx="204" cy="743.4" r="6.95"/><circle cx="390.6" cy="661.3" r="6.95"/><circle cx="400.2" cy="788.6" r="6.95"/><circle cx="171.3" cy="740.4" r="6.95"/><circle cx="517.4" cy="791.9" r="6.95"/><circle cx="118" cy="840.5" r="6.95"/><circle cx="113.1" cy="844.7" r="6.95"/><circle cx="370.8" cy="593.4" r="6.95"/><circle cx="123.7" cy="841.7" r="6.95"/><circle cx="380" cy="693.5" r="6.95"/><circle cx="278.6" cy="612.2" r="6.95"/><circle cx="470.3" cy="467.1" r="6.95"/><circle cx="206.2" cy="703.8" r="6.95"/><circle cx="112.2" cy="844.6" r="6.95"/><circle cx="118.9" cy="837" r="6.95"/><circle cx="324.5" cy="671.6" r="6.95"/><circle cx="631.1" cy="404.2" r="6.95"/><circle cx="205" cy="750.1" r="6.95"/><circle cx="230.6" cy="748.4" r="6.95"/><circle cx="118.3" cy="834.3" r="6.95"/><circle cx="319.9" cy="647.2" r="6.95"/><circle cx="482.6" cy="480.3" r="6.95"/><circle cx="300.7" cy="731.3" r="6.95"/><circle cx="600.2" cy="574" r="6.95"/><circle cx="193.2" cy="783.5" r="6.95"/><circle cx="372.2" cy="364.2" r="6.95"/><circle cx="134.9" cy="820.2" r="6.95"/><circle cx="474.1" cy="580.8" r="6.95"/><circle cx="511.9" cy="508.4" r="6.95"/><circle cx="344.6" cy="369.4" r="6.95"/><circle cx="166" cy="790.5" r="6.95"/><circle cx="156.3" cy="793.4" r="6.95"/><circle cx="142.5" cy="833.6" r="6.95"/><circle cx="177.7" cy="759.1" r="6.95"/><circle cx="359.3" cy="700.6" r="6.95"/><circle cx="124.7" cy="806" r="6.95"/><circle cx="225" cy="724" r="6.95"/><circle cx="177.1" cy="799.1" r="6.95"/><circle cx="236.8" cy="695.7" r="6.95"/><circle cx="527.2" cy="463.8" r="6.95"/><circle cx="564.2" cy="461.9" r="6.95"/><circle cx="112.4" cy="844.7" r="6.95"/><circle cx="592.8" cy="419.7" r="6.95"/><circle cx="199.2" cy="838.2" r="6.95"/><circle cx="123.4" cy="825.8" r="6.95"/><circle cx="189.5" cy="823.2" r="6.95"/><circle cx="233.7" cy="770" r="6.95"/><circle cx="147.2" cy="815.7" r="6.95"/><circle cx="304.4" cy="609.2" r="6.95"/><circle cx="469.4" cy="406.3" r="6.95"/><circle cx="190.7" cy="704.7" r="6.95"/><circle cx="327.6" cy="613.2" r="6.95"/><circle cx="320.1" cy="655.2" r="6.95"/><circle cx="499.3" cy="524.6" r="6.95"/><circle cx="155.1" cy="796.1" r="6.95"/><circle cx="132.3" cy="816.5" r="6.95"/><circle cx="127.9" cy="833.1" r="6.95"/><circle cx="273.1" cy="552" r="6.95"/><circle cx="395.7" cy="583.5" r="6.95"/><circle cx="667.4" cy="448" r="6.95"/><circle cx="113.6" cy="841.5" r="6.95"/><circle cx="176.5" cy="759.5" r="6.95"/><circle cx="242.8" cy="730.8" r="6.95"/><circle cx="117.8" cy="836.3" r="6.95"/><circle cx="447.3" cy="484.4" r="6.95"/><circle cx="114.8" cy="843.1" r="6.95"/><circle cx="541.2" cy="591.2" r="6.95"/><circle cx="111.3" cy="844.7" r="6.95"/><circle cx="149.6" cy="800.1" r="6.95"/><circle cx="111.8" cy="841.6" r="6.95"/><circle cx="153.6" cy="813.6" r="6.95"/><circle cx="128.5" cy="817" r="6.95"/><circle cx="397.4" cy="569.6" r="6.95"/><circle cx="381.9" cy="713.1" r="6.95"/><circle cx="421.1" cy="629.1" r="6.95"/><circle cx="443.3" cy="542" r="6.95"/><circle cx="169.3" cy="791.7" r="6.95"/><circle cx="222.2" cy="741.9" r="6.95"/><circle cx="667.1" cy="243" r="6.95"/><circle cx="180.1" cy="686.8" r="6.95"/><circle cx="240.2" cy="723.4" r="6.95"/><circle cx="687.1" cy="259.8" r="6.95"/><circle cx="304.7" cy="738.9" r="6.95"/><circle cx="312.7" cy="824.4" r="6.95"/><circle cx="169.7" cy="736.7" r="6.95"/><circle cx="338.5" cy="512.8" r="6.95"/><circle cx="364.9" cy="554.4" r="6.95"/><circle cx="353.4" cy="437.2" r="6.95"/><circle cx="607.6" cy="633.9" r="6.95"/><circle cx="417.1" cy="690.4" r="6.95"/><circle cx="361.7" cy="688.2" r="6.95"/><circle cx="665.5" cy="578.1" r="6.95"/><circle cx="488.1" cy="554.6" r="6.95"/><circle cx="302.6" cy="603.6" r="6.95"/><circle cx="117.4" cy="844" r="6.95"/><circle cx="212.4" cy="734.3" r="6.95"/><circle cx="382.3" cy="733.9" r="6.95"/><circle cx="217.9" cy="715.9" r="6.95"/><circle cx="554" cy="370.9" r="6.95"/><circle cx="121.4" cy="833.9" r="6.95"/><circle cx="261" cy="674.6" r="6.95"/><circle cx="234.2" cy="737.2" r="6.95"/><circle cx="272.3" cy="718.1" r="6.95"/><circle cx="169.5" cy="771.9" r="6.95"/><circle cx="165.8" cy="733.1" r="6.95"/><circle cx="148.1" cy="824.1" r="6.95"/><circle cx="140.5" cy="823.6" r="6.95"/><circle cx="253.5" cy="730.7" r="6.95"/><circle cx="355" cy="567" r="6.95"/><circle cx="123.3" cy="832.9" r="6.95"/><circle cx="265.6" cy="826.2" r="6.95"/><circle cx="253.6" cy="580.7" r="6.95"/><circle cx="704.3" cy="280.3" r="6.95"/><circle cx="190" cy="785.3" r="6.95"/><circle cx="352.8" cy="665.5" r="6.95"/><circle cx="158.9" cy="658.7" r="6.95"/><circle cx="379.9" cy="424.4" r="6.95"/><circle cx="397.7" cy="648.6" r="6.95"/><circle cx="113.9" cy="834.7" r="6.95"/><circle cx="278.8" cy="802.3" r="6.95"/><circle cx="152.4" cy="819" r="6.95"/><circle cx="112.1" cy="838.1" r="6.95"/><circle cx="164.7" cy="786.8" r="6.95"/><circle cx="410.9" cy="734.5" r="6.95"/><circle cx="128" cy="791.3" r="6.95"/><circle cx="155" cy="789.9" r="6.95"/><circle cx="605.1" cy="443" r="6.95"/><circle cx="487.7" cy="525.8" r="6.95"/><circle cx="337.5" cy="786.5" r="6.95"/><circle cx="311.6" cy="715.4" r="6.95"/><circle cx="111.3" cy="843.8" r="6.95"/><circle cx="174.8" cy="790.6" r="6.95"/><circle cx="324.8" cy="680.8" r="6.95"/><circle cx="572.2" cy="415.1" r="6.95"/><circle cx="194.4" cy="658.9" r="6.95"/><circle cx="216.9" cy="741.5" r="6.95"/><circle cx="267.1" cy="668.7" r="6.95"/><circle cx="654.8" cy="336.4" r="6.95"/><circle cx="115.4" cy="844.7" r="6.95"/><circle cx="577.3" cy="426.6" r="6.95"/><circle cx="116" cy="839.9" r="6.95"/><circle cx="176.3" cy="796.9" r="6.95"/><circle cx="150" cy="814.6" r="6.95"/><circle cx="179.4" cy="718.6" r="6.95"/><circle cx="116.6" cy="832.3" r="6.95"/><circle cx="525.6" cy="367.8" r="6.95"/><circle cx="405.7" cy="626.6" r="6.95"/><circle cx="343.5" cy="593.8" r="6.95"/><circle cx="123.8" cy="829.5" r="6.95"/><circle cx="227.7" cy="712.6" r="6.95"/><circle cx="539.5" cy="403.8" r="6.95"/><circle cx="116.4" cy="842.1" r="6.95"/><circle cx="255.4" cy="667.8" r="6.95"/><circle cx="420.7" cy="689.4" r="6.95"/><circle cx="386.8" cy="583.7" r="6.95"/><circle cx="316.5" cy="672.9" r="6.95"/><circle cx="146" cy="817.2" r="6.95"/><circle cx="284.2" cy="612.1" r="6.95"/><circle cx="500" cy="446.5" r="6.95"/><circle cx="277.1" cy="739.4" r="6.95"/><circle cx="546.1" cy="493.9" r="6.95"/><circle cx="408.8" cy="680.7" r="6.95"/><circle cx="113.3" cy="831.4" r="6.95"/><circle cx="321.4" cy="623.7" r="6.95"/><circle cx="130.4" cy="830" r="6.95"/><circle cx="484.7" cy="606.4" r="6.95"/><circle cx="536.3" cy="569.9" r="6.95"/><circle cx="296.9" cy="661.7" r="6.95"/><circle cx="133.8" cy="821.3" r="6.95"/><circle cx="213" cy="817.6" r="6.95"/><circle cx="243.7" cy="655.9" r="6.95"/><circle cx="577.3" cy="566.6" r="6.95"/><circle cx="138.4" cy="821.5" r="6.95"/><circle cx="529.7" cy="328" r="6.95"/><circle cx="123.5" cy="828.7" r="6.95"/><circle cx="127.1" cy="826.3" r="6.95"/><circle cx="300.3" cy="478.7" r="6.95"/><circle cx="119" cy="844.7" r="6.95"/><circle cx="174.8" cy="662.6" r="6.95"/><circle cx="351.2" cy="709.7" r="6.95"/><circle cx="137.8" cy="819.4" r="6.95"/><circle cx="196.2" cy="786.8" r="6.95"/><circle cx="450" cy="699.6" r="6.95"/><circle cx="459.2" cy="401.9" r="6.95"/><circle cx="191.2" cy="761" r="6.95"/><circle cx="207.8" cy="649" r="6.95"/><circle cx="147.9" cy="808" r="6.95"/><circle cx="207.6" cy="746.6" r="6.95"/><circle cx="330.4" cy="653.6" r="6.95"/><circle cx="305.3" cy="644.2" r="6.95"/><circle cx="240" cy="717.5" r="6.95"/><circle cx="429.1" cy="663.6" r="6.95"/><circle cx="111.6" cy="837.1" r="6.95"/><circle cx="152.9" cy="821" r="6.95"/><circle cx="236.5" cy="665.3" r="6.95"/><circle cx="131" cy="779" r="6.95"/><circle cx="542.7" cy="372.4" r="6.95"/><circle cx="194.6" cy="781.1" r="6.95"/><circle cx="160.1" cy="817.9" r="6.95"/><circle cx="147" cy="778" r="6.95"/><circle cx="425" cy="636" r="6.95"/><circle cx="227.3" cy="651" r="6.95"/><circle cx="272.9" cy="680.8" r="6.95"/><circle cx="235" cy="685.6" r="6.95"/><circle cx="292.7" cy="646.4" r="6.95"/><circle cx="135.5" cy="823.8" r="6.95"/><circle cx="449.3" cy="599.3" r="6.95"/><circle cx="341.9" cy="596.2" r="6.95"/><circle cx="213.1" cy="769.5" r="6.95"/><circle cx="426.7" cy="493.5" r="6.95"/><circle cx="111.9" cy="841.8" r="6.95"/><circle cx="542.8" cy="556.2" r="6.95"/><circle cx="114.8" cy="840.8" r="6.95"/><circle cx="507.5" cy="501.3" r="6.95"/><circle cx="312.4" cy="718.2" r="6.95"/><circle cx="308.4" cy="742.5" r="6.95"/><circle cx="459.7" cy="491" r="6.95"/><circle cx="152.3" cy="755.6" r="6.95"/><circle cx="153" cy="820.7" r="6.95"/><circle cx="627.3" cy="456.2" r="6.95"/><circle cx="474.2" cy="638.4" r="6.95"/><circle cx="496.3" cy="596.1" r="6.95"/><circle cx="490.4" cy="367.8" r="6.95"/><circle cx="323.6" cy="640.8" r="6.95"/><circle cx="333.2" cy="599.6" r="6.95"/><circle cx="141.9" cy="812.7" r="6.95"/><circle cx="695.3" cy="251.6" r="6.95"/><circle cx="567.4" cy="523.4" r="6.95"/><circle cx="167.6" cy="829.5" r="6.95"/><circle cx="166.9" cy="781.6" r="6.95"/><circle cx="220.3" cy="822.7" r="6.95"/><circle cx="113.2" cy="841.8" r="6.95"/><circle cx="528.1" cy="399.8" r="6.95"/><circle cx="683.8" cy="370.3" r="6.95"/><circle cx="145.1" cy="641.1" r="6.95"/><circle cx="208" cy="750.5" r="6.95"/><circle cx="247.9" cy="639.2" r="6.95"/><circle cx="117.7" cy="835.8" r="6.95"/><circle cx="120" cy="832.7" r="6.95"/><circle cx="472.2" cy="668.1" r="6.95"/><circle cx="168.1" cy="741.6" r="6.95"/><circle cx="150.6" cy="820.1" r="6.95"/><circle cx="565.8" cy="515.2" r="6.95"/><circle cx="457.5" cy="648.6" r="6.95"/><circle cx="212" cy="807.5" r="6.95"/><circle cx="193.4" cy="749.3" r="6.95"/><circle cx="173" cy="818.7" r="6.95"/><circle cx="112.8" cy="840.3" r="6.95"/><circle cx="477.3" cy="719.8" r="6.95"/><circle cx="348.5" cy="668.6" r="6.95"/><circle cx="220.6" cy="781.7" r="6.95"/><circle cx="631.5" cy="288.6" r="6.95"/><circle cx="577.3" cy="526.7" r="6.95"/><circle cx="344.6" cy="584.3" r="6.95"/><circle cx="401.5" cy="699" r="6.95"/><circle cx="139.9" cy="770.9" r="6.95"/><circle cx="138.2" cy="804.5" r="6.95"/><circle cx="173.3" cy="807.3" r="6.95"/><circle cx="136.7" cy="811.3" r="6.95"/><circle cx="380.6" cy="445.2" r="6.95"/><circle cx="319.2" cy="776" r="6.95"/><circle cx="130.8" cy="824.7" r="6.95"/><circle cx="595.3" cy="626.5" r="6.95"/><circle cx="143.7" cy="812.9" r="6.95"/><circle cx="117.8" cy="839.5" r="6.95"/><circle cx="185" cy="795.6" r="6.95"/><circle cx="336" cy="821.6" r="6.95"/><circle cx="595.6" cy="380.2" r="6.95"/><circle cx="324.4" cy="638.9" r="6.95"/><circle cx="383.7" cy="687.5" r="6.95"/><circle cx="495.3" cy="680.5" r="6.95"/><circle cx="218.7" cy="729.7" r="6.95"/><circle cx="293.7" cy="484.4" r="6.95"/><circle cx="133.9" cy="773.3" r="6.95"/><circle cx="234.6" cy="838.1" r="6.95"/><circle cx="467.4" cy="731.2" r="6.95"/><circle cx="161.6" cy="812.9" r="6.95"/><circle cx="512.5" cy="315.3" r="6.95"/><circle cx="134.2" cy="825.1" r="6.95"/><circle cx="169.8" cy="801.8" r="6.95"/><circle cx="256.1" cy="697" r="6.95"/><circle cx="383.2" cy="650.1" r="6.95"/><circle cx="169.6" cy="798.3" r="6.95"/><circle cx="124.2" cy="833.4" r="6.95"/><circle cx="464.2" cy="601.7" r="6.95"/><circle cx="395.3" cy="505.7" r="6.95"/><circle cx="368.2" cy="524.7" r="6.95"/><circle cx="120.8" cy="840.6" r="6.95"/><circle cx="178.6" cy="810.3" r="6.95"/><circle cx="570.7" cy="610.1" r="6.95"/><circle cx="476.4" cy="617.9" r="6.95"/><circle cx="144.1" cy="823.4" r="6.95"/><circle cx="433.2" cy="664.9" r="6.95"/><circle cx="113.6" cy="828.3" r="6.95"/><circle cx="113.7" cy="842.6" r="6.95"/><circle cx="231.6" cy="748.8" r="6.95"/><circle cx="292.6" cy="796.5" r="6.95"/><circle cx="455.1" cy="732.1" r="6.95"/><circle cx="606.8" cy="460.2" r="6.95"/><circle cx="178.5" cy="770.1" r="6.95"/><circle cx="331.6" cy="613.7" r="6.95"/><circle cx="161" cy="765.2" r="6.95"/><circle cx="651.9" cy="237.6" r="6.95"/><circle cx="172.8" cy="729" r="6.95"/><circle cx="512.6" cy="673.7" r="6.95"/><circle cx="313.8" cy="608.7" r="6.95"/><circle cx="531.4" cy="391.6" r="6.95"/><circle cx="313.4" cy="665.8" r="6.95"/><circle cx="339" cy="570.3" r="6.95"/><circle cx="165.5" cy="799.6" r="6.95"/><circle cx="280.7" cy="737.9" r="6.95"/><circle cx="144.9" cy="779.1" r="6.95"/><circle cx="117.3" cy="837.2" r="6.95"/><circle cx="150.5" cy="820.6" r="6.95"/><circle cx="342.1" cy="653.5" r="6.95"/><circle cx="482.5" cy="631.8" r="6.95"/><circle cx="222.8" cy="774.1" r="6.95"/><circle cx="430" cy="563" r="6.95"/><circle cx="403.5" cy="734.5" r="6.95"/><circle cx="160.8" cy="797.5" r="6.95"/><circle cx="255.7" cy="748.4" r="6.95"/><circle cx="141.5" cy="829.9" r="6.95"/><circle cx="307.8" cy="709.4" r="6.95"/><circle cx="343.2" cy="670.9" r="6.95"/><circle cx="113.1" cy="840.2" r="6.95"/><circle cx="157.9" cy="793.3" r="6.95"/><circle cx="509.7" cy="607.9" r="6.95"/><circle cx="490.4" cy="378.5" r="6.95"/><circle cx="121.6" cy="835.9" r="6.95"/><circle cx="264.4" cy="660.3" r="6.95"/><circle cx="223.8" cy="748.1" r="6.95"/><circle cx="159.9" cy="810.1" r="6.95"/><circle cx="386.7" cy="738.5" r="6.95"/><circle cx="276.3" cy="585.7" r="6.95"/><circle cx="344.9" cy="643.2" r="6.95"/><circle cx="270" cy="617.5" r="6.95"/><circle cx="654.3" cy="278.6" r="6.95"/><circle cx="532.8" cy="673.3" r="6.95"/><circle cx="280.9" cy="564.3" r="6.95"/><circle cx="631.4" cy="516.8" r="6.95"/><circle cx="495.8" cy="617.3" r="6.95"/><circle cx="444" cy="659.8" r="6.95"/><circle cx="658.5" cy="423.9" r="6.95"/><circle cx="205" cy="784.6" r="6.95"/><circle cx="319" cy="765" r="6.95"/><circle cx="207.9" cy="708.7" r="6.95"/><circle cx="156.6" cy="792" r="6.95"/><circle cx="132.8" cy="816.6" r="6.95"/><circle cx="396.6" cy="806.2" r="6.95"/><circle cx="332.9" cy="684" r="6.95"/><circle cx="325.7" cy="645.9" r="6.95"/><circle cx="113.8" cy="842.1" r="6.95"/><circle cx="170.8" cy="775.9" r="6.95"/><circle cx="675.6" cy="339.1" r="6.95"/><circle cx="114.2" cy="841" r="6.95"/><circle cx="114" cy="837.2" r="6.95"/><circle cx="349.5" cy="730" r="6.95"/><circle cx="531.4" cy="357.1" r="6.95"/><circle cx="160.4" cy="778.3" r="6.95"/><circle cx="194.4" cy="691.3" r="6.95"/><circle cx="192.5" cy="789.6" r="6.95"/><circle cx="316.3" cy="725" r="6.95"/><circle cx="118.5" cy="831.7" r="6.95"/><circle cx="613.2" cy="387.1" r="6.95"/><circle cx="398.6" cy="746" r="6.95"/><circle cx="474.4" cy="617.1" r="6.95"/><circle cx="424.7" cy="557.1" r="6.95"/><circle cx="200.7" cy="740.3" r="6.95"/><circle cx="111.3" cy="840.6" r="6.95"/><circle cx="379.8" cy="557.7" r="6.95"/><circle cx="235.2" cy="739.3" r="6.95"/><circle cx="432.9" cy="581.8" r="6.95"/><circle cx="641.2" cy="648.6" r="6.95"/><circle cx="111.3" cy="844.4" r="6.95"/><circle cx="118.9" cy="834.5" r="6.95"/><circle cx="410.5" cy="666.7" r="6.95"/><circle cx="459.7" cy="479.5" r="6.95"/><circle cx="503.5" cy="241.4" r="6.95"/><circle cx="154.5" cy="803.8" r="6.95"/><circle cx="249.7" cy="797.2" r="6.95"/><circle cx="243" cy="536.5" r="6.95"/><circle cx="111.5" cy="843.7" r="6.95"/><circle cx="559.2" cy="630.6" r="6.95"/><circle cx="219.3" cy="772" r="6.95"/><circle cx="210.2" cy="750.5" r="6.95"/><circle cx="280.6" cy="711.3" r="6.95"/><circle cx="168.3" cy="826.5" r="6.95"/><circle cx="219" cy="755.2" r="6.95"/><circle cx="217.5" cy="772.2" r="6.95"/><circle cx="363.4" cy="632.8" r="6.95"/><circle cx="114.1" cy="844.5" r="6.95"/><circle cx="332.8" cy="653" r="6.95"/><circle cx="184.5" cy="645.3" r="6.95"/><circle cx="405.6" cy="534.7" r="6.95"/><circle cx="392.8" cy="461.3" r="6.95"/><circle cx="561.7" cy="330.1" r="6.95"/><circle cx="111.3" cy="839" r="6.95"/><circle cx="364.6" cy="725.4" r="6.95"/><circle cx="125.7" cy="829.2" r="6.95"/><circle cx="459.9" cy="510" r="6.95"/><circle cx="243.7" cy="760.6" r="6.95"/><circle cx="174.9" cy="797.1" r="6.95"/><circle cx="573.5" cy="163.4" r="6.95"/><circle cx="311" cy="457.6" r="6.95"/><circle cx="115" cy="840.5" r="6.95"/><circle cx="282.4" cy="674.9" r="6.95"/><circle cx="125.9" cy="836.1" r="6.95"/><circle cx="115.6" cy="842" r="6.95"/><circle cx="132.6" cy="827.5" r="6.95"/><circle cx="145.2" cy="829.5" r="6.95"/><circle cx="236.5" cy="735.3" r="6.95"/><circle cx="516.6" cy="423.5" r="6.95"/><circle cx="249.3" cy="684.9" r="6.95"/><circle cx="423.3" cy="592.3" r="6.95"/><circle cx="437.4" cy="630.8" r="6.95"/><circle cx="361.3" cy="728" r="6.95"/><circle cx="259.2" cy="715.7" r="6.95"/><circle cx="619.1" cy="599.4" r="6.95"/><circle cx="576" cy="423" r="6.95"/><circle cx="209.3" cy="783.6" r="6.95"/><circle cx="700.2" cy="263" r="6.95"/><circle cx="529.7" cy="450.6" r="6.95"/><circle cx="212.3" cy="736.4" r="6.95"/><circle cx="222.6" cy="799.9" r="6.95"/><circle cx="496.5" cy="624.6" r="6.95"/><circle cx="221.3" cy="750.3" r="6.95"/><circle cx="157.4" cy="788.8" r="6.95"/><circle cx="694.5" cy="432.4" r="6.95"/><circle cx="117.1" cy="836.9" r="6.95"/><circle cx="170.8" cy="779.8" r="6.95"/><circle cx="117.9" cy="836.2" r="6.95"/><circle cx="115.9" cy="834.8" r="6.95"/><circle cx="517.8" cy="670.8" r="6.95"/><circle cx="673.2" cy="229.4" r="6.95"/><circle cx="472.2" cy="672.3" r="6.95"/><circle cx="474.4" cy="457.2" r="6.95"/><circle cx="118" cy="839.7" r="6.95"/><circle cx="239" cy="807.1" r="6.95"/><circle cx="114.5" cy="841" r="6.95"/><circle cx="128.8" cy="835.2" r="6.95"/><circle cx="322.5" cy="344.4" r="6.95"/><circle cx="227.4" cy="708.4" r="6.95"/><circle cx="130.2" cy="697.2" r="6.95"/><circle cx="157.5" cy="769.7" r="6.95"/><circle cx="357.6" cy="631.7" r="6.95"/><circle cx="219.7" cy="777.5" r="6.95"/><circle cx="193.3" cy="765.2" r="6.95"/><circle cx="406.4" cy="517.3" r="6.95"/><circle cx="332.3" cy="781.8" r="6.95"/><circle cx="706.8" cy="233.5" r="6.95"/><circle cx="212.4" cy="780.5" r="6.95"/><circle cx="177.6" cy="789.3" r="6.95"/><circle cx="422.3" cy="741.1" r="6.95"/><circle cx="124.3" cy="838.8" r="6.95"/><circle cx="261.8" cy="585.6" r="6.95"/><circle cx="127.2" cy="828.8" r="6.95"/><circle cx="254" cy="639.1" r="6.95"/><circle cx="126.5" cy="706.3" r="6.95"/><circle cx="249.9" cy="686.5" r="6.95"/><circle cx="356.7" cy="521.4" r="6.95"/><circle cx="137.3" cy="826.8" r="6.95"/><circle cx="679.7" cy="431.6" r="6.95"/><circle cx="369.6" cy="402.2" r="6.95"/><circle cx="117.3" cy="838.7" r="6.95"/><circle cx="111.3" cy="843.5" r="6.95"/><circle cx="115.9" cy="840.9" r="6.95"/><circle cx="283.3" cy="577.8" r="6.95"/><circle cx="578.7" cy="312.7" r="6.95"/><circle cx="234" cy="832" r="6.95"/><circle cx="581.4" cy="642.1" r="6.95"/><circle cx="134.7" cy="822.2" r="6.95"/><circle cx="194.3" cy="792.1" r="6.95"/><circle cx="700.2" cy="215.5" r="6.95"/><circle cx="607.4" cy="332.6" r="6.95"/><circle cx="241" cy="755.5" r="6.95"/><circle cx="281.7" cy="594.3" r="6.95"/><circle cx="195.8" cy="629.3" r="6.95"/><circle cx="217.5" cy="835.9" r="6.95"/><circle cx="111.4" cy="844.7" r="6.95"/><circle cx="299.8" cy="679.9" r="6.95"/><circle cx="449.5" cy="636.9" r="6.95"/><circle cx="155.7" cy="778.8" r="6.95"/><circle cx="185.6" cy="752.5" r="6.95"/><circle cx="160.1" cy="812.6" r="6.95"/><circle cx="444.5" cy="417.8" r="6.95"/><circle cx="640.4" cy="255.2" r="6.95"/><circle cx="212.4" cy="801.7" r="6.95"/><circle cx="325.3" cy="700" r="6.95"/><circle cx="485.5" cy="182.4" r="6.95"/><circle cx="121.7" cy="840.5" r="6.95"/><circle cx="362.9" cy="605.7" r="6.95"/><circle cx="627.8" cy="297.3" r="6.95"/><circle cx="695.3" cy="233.5" r="6.95"/><circle cx="262.3" cy="512.8" r="6.95"/><circle cx="296.9" cy="703.2" r="6.95"/><circle cx="165.4" cy="772" r="6.95"/><circle cx="113.4" cy="844.7" r="6.95"/><circle cx="360" cy="659.9" r="6.95"/><circle cx="649.6" cy="306.8" r="6.95"/><circle cx="207.5" cy="774.4" r="6.95"/><circle cx="207.3" cy="830.7" r="6.95"/><circle cx="113" cy="841" r="6.95"/><circle cx="357.1" cy="636.6" r="6.95"/><circle cx="348.4" cy="492.7" r="6.95"/><circle cx="249.5" cy="536.5" r="6.95"/><circle cx="348.7" cy="666.2" r="6.95"/><circle cx="142.6" cy="800.4" r="6.95"/><circle cx="475.3" cy="547.1" r="6.95"/><circle cx="491.6" cy="617.8" r="6.95"/><circle cx="589.3" cy="399.4" r="6.95"/><circle cx="153.4" cy="836.7" r="6.95"/><circle cx="352.3" cy="669.3" r="6.95"/><circle cx="353.4" cy="493.5" r="6.95"/><circle cx="159.4" cy="810.3" r="6.95"/><circle cx="226.7" cy="806.5" r="6.95"/><circle cx="230.6" cy="741.1" r="6.95"/><circle cx="229.9" cy="714.6" r="6.95"/><circle cx="187.2" cy="769.9" r="6.95"/><circle cx="197.8" cy="798.6" r="6.95"/><circle cx="201.3" cy="762.4" r="6.95"/><circle cx="358.1" cy="633.7" r="6.95"/><circle cx="217.9" cy="780.8" r="6.95"/><circle cx="363.4" cy="692.2" r="6.95"/><circle cx="523.9" cy="520.1" r="6.95"/><circle cx="111.3" cy="842.8" r="6.95"/><circle cx="215.7" cy="789.8" r="6.95"/><circle cx="279.7" cy="737.1" r="6.95"/><circle cx="191.6" cy="760.5" r="6.95"/><circle cx="348.6" cy="803.1" r="6.95"/><circle cx="169.8" cy="836.5" r="6.95"/><circle cx="193.7" cy="708.5" r="6.95"/><circle cx="290.5" cy="375.2" r="6.95"/><circle cx="112.2" cy="844.7" r="6.95"/><circle cx="163.8" cy="808.5" r="6.95"/><circle cx="121.5" cy="832.2" r="6.95"/><circle cx="260.3" cy="768.3" r="6.95"/><circle cx="155.2" cy="803.9" r="6.95"/><circle cx="654.3" cy="534.8" r="6.95"/><circle cx="672.4" cy="457.8" r="6.95"/><circle cx="447" cy="632.9" r="6.95"/><circle cx="218.8" cy="658.4" r="6.95"/><circle cx="231" cy="768.2" r="6.95"/><circle cx="376.3" cy="590.5" r="6.95"/><circle cx="396" cy="646.6" r="6.95"/><circle cx="612.8" cy="287" r="6.95"/><circle cx="113.9" cy="842.2" r="6.95"/><circle cx="513.3" cy="692.8" r="6.95"/><circle cx="153.8" cy="801.2" r="6.95"/><circle cx="428.9" cy="534.6" r="6.95"/><circle cx="198.4" cy="799.6" r="6.95"/><circle cx="114.1" cy="844.7" r="6.95"/><circle cx="113.2" cy="842.7" r="6.95"/><circle cx="117.6" cy="836.2" r="6.95"/><circle cx="445.3" cy="754.2" r="6.95"/><circle cx="126.6" cy="826.2" r="6.95"/><circle cx="508.2" cy="463.8" r="6.95"/><circle cx="112.9" cy="842.2" r="6.95"/><circle cx="117.4" cy="840.3" r="6.95"/><circle cx="485.5" cy="737.8" r="6.95"/><circle cx="242.5" cy="787" r="6.95"/><circle cx="385.8" cy="691.8" r="6.95"/><circle cx="519.4" cy="192.2" r="6.95"/><circle cx="356.2" cy="763.7" r="6.95"/><circle cx="208.7" cy="681.8" r="6.95"/><circle cx="218.1" cy="664.4" r="6.95"/><circle cx="603.7" cy="411.5" r="6.95"/><circle cx="251.4" cy="794.8" r="6.95"/><circle cx="301.1" cy="586.4" r="6.95"/><circle cx="274.6" cy="708.4" r="6.95"/><circle cx="202.5" cy="793.6" r="6.95"/><circle cx="404.1" cy="577.3" r="6.95"/><circle cx="191" cy="726.9" r="6.95"/><circle cx="260.7" cy="636.9" r="6.95"/><circle cx="219.2" cy="719.1" r="6.95"/><circle cx="343.3" cy="634.3" r="6.95"/><circle cx="603.5" cy="451.2" r="6.95"/><circle cx="285.8" cy="528.8" r="6.95"/><circle cx="259.7" cy="714.6" r="6.95"/><circle cx="174" cy="832.5" r="6.95"/><circle cx="145.2" cy="827.9" r="6.95"/><circle cx="651" cy="441.4" r="6.95"/><circle cx="117.6" cy="842.7" r="6.95"/><circle cx="256.6" cy="684.1" r="6.95"/><circle cx="184.7" cy="742.5" r="6.95"/><circle cx="279" cy="707.9" r="6.95"/><circle cx="565.8" cy="566.6" r="6.95"/><circle cx="536.3" cy="685.2" r="6.95"/><circle cx="131.3" cy="821.9" r="6.95"/><circle cx="363" cy="625.9" r="6.95"/><circle cx="339.8" cy="620.7" r="6.95"/><circle cx="621.5" cy="554.5" r="6.95"/><circle cx="252.2" cy="778" r="6.95"/><circle cx="339.2" cy="631.3" r="6.95"/><circle cx="663.1" cy="311.7" r="6.95"/><circle cx="113.3" cy="835.1" r="6.95"/><circle cx="460.9" cy="712.4" r="6.95"/><circle cx="195.1" cy="795.7" r="6.95"/><circle cx="368.2" cy="446.5" r="6.95"/><circle cx="114.6" cy="841.5" r="6.95"/><circle cx="151.3" cy="814.3" r="6.95"/><circle cx="162.5" cy="774.2" r="6.95"/><circle cx="139.6" cy="805.7" r="6.95"/><circle cx="319.4" cy="725.1" r="6.95"/><circle cx="118.9" cy="841.3" r="6.95"/><circle cx="272.5" cy="760.6" r="6.95"/><circle cx="679.7" cy="488.9" r="6.95"/><circle cx="365" cy="707.6" r="6.95"/><circle cx="138.9" cy="814.2" r="6.95"/><circle cx="234.5" cy="686.7" r="6.95"/><circle cx="304.3" cy="765" r="6.95"/><circle cx="556.8" cy="414.6" r="6.95"/><circle cx="588.7" cy="531.6" r="6.95"/><circle cx="271.4" cy="726.5" r="6.95"/><circle cx="142.6" cy="818.9" r="6.95"/><circle cx="364.8" cy="720.8" r="6.95"/><circle cx="464.5" cy="435.7" r="6.95"/><circle cx="318.7" cy="660.9" r="6.95"/><circle cx="360" cy="514.8" r="6.95"/><circle cx="114.8" cy="838.5" r="6.95"/><circle cx="171.9" cy="816.6" r="6.95"/><circle cx="118.2" cy="842.1" r="6.95"/><circle cx="428.1" cy="744.3" r="6.95"/><circle cx="699.4" cy="146.6" r="6.95"/><circle cx="293.2" cy="580.8" r="6.95"/><circle cx="193.7" cy="682.7" r="6.95"/><circle cx="515.5" cy="348.4" r="6.95"/><circle cx="119.7" cy="839.1" r="6.95"/><circle cx="227.8" cy="715" r="6.95"/><circle cx="433.7" cy="551" r="6.95"/><circle cx="557.6" cy="495.5" r="6.95"/><circle cx="265.1" cy="649.9" r="6.95"/><circle cx="490.3" cy="553.3" r="6.95"/><circle cx="334.2" cy="634.1" r="6.95"/><circle cx="228.2" cy="698.8" r="6.95"/><circle cx="243.7" cy="650.4" r="6.95"/><circle cx="420.6" cy="579.7" r="6.95"/><circle cx="358.3" cy="448.5" r="6.95"/><circle cx="637.9" cy="384.8" r="6.95"/><circle cx="366.6" cy="512.3" r="6.95"/><circle cx="430.6" cy="686.1" r="6.95"/><circle cx="155.6" cy="798.7" r="6.95"/><circle cx="393.6" cy="294" r="6.95"/><circle cx="362.4" cy="685.2" r="6.95"/><circle cx="290.7" cy="670.1" r="6.95"/><circle cx="414.4" cy="537.3" r="6.95"/><circle cx="491.4" cy="542.8" r="6.95"/><circle cx="472.8" cy="664.4" r="6.95"/><circle cx="441.6" cy="556.4" r="6.95"/><circle cx="185.3" cy="836.5" r="6.95"/><circle cx="298.1" cy="727.1" r="6.95"/><circle cx="272" cy="771.5" r="6.95"/><circle cx="683" cy="358" r="6.95"/><circle cx="263.2" cy="679.8" r="6.95"/><circle cx="123.4" cy="832.7" r="6.95"/><circle cx="267.1" cy="582.9" r="6.95"/><circle cx="112.9" cy="840.4" r="6.95"/><circle cx="136.6" cy="810.7" r="6.95"/><circle cx="234.8" cy="826.2" r="6.95"/><circle cx="389.6" cy="713.4" r="6.95"/><circle cx="152.2" cy="647.5" r="6.95"/><circle cx="650.7" cy="313.4" r="6.95"/><circle cx="219.5" cy="742.7" r="6.95"/><circle cx="303.4" cy="679.3" r="6.95"/><circle cx="147" cy="834.7" r="6.95"/><circle cx="337.3" cy="333.4" r="6.95"/><circle cx="249.2" cy="769.4" r="6.95"/><circle cx="595.5" cy="423.9" r="6.95"/><circle cx="300.3" cy="653.1" r="6.95"/><circle cx="257.7" cy="584" r="6.95"/><circle cx="115.8" cy="839.9" r="6.95"/><circle cx="552.5" cy="413.9" r="6.95"/><circle cx="177.8" cy="768.2" r="6.95"/><circle cx="593.7" cy="507.8" r="6.95"/><circle cx="112.5" cy="844.2" r="6.95"/><circle cx="112.3" cy="840.2" r="6.95"/><circle cx="227.2" cy="797.3" r="6.95"/><circle cx="159.5" cy="815.3" r="6.95"/><circle cx="281.2" cy="656.4" r="6.95"/><circle cx="216.9" cy="734.4" r="6.95"/><circle cx="120.9" cy="834.1" r="6.95"/><circle cx="432.4" cy="522.1" r="6.95"/><circle cx="199.6" cy="759.9" r="6.95"/><circle cx="154.3" cy="835.5" r="6.95"/><circle cx="300.3" cy="430.4" r="6.95"/><circle cx="570.7" cy="559.4" r="6.95"/><circle cx="568.5" cy="394.8" r="6.95"/><circle cx="567.4" cy="754.2" r="6.95"/><circle cx="511.5" cy="427.5" r="6.95"/><circle cx="226.7" cy="728.5" r="6.95"/><circle cx="432.7" cy="730.4" r="6.95"/><circle cx="341.8" cy="800.7" r="6.95"/><circle cx="261.5" cy="725.8" r="6.95"/><circle cx="163.8" cy="805" r="6.95"/><circle cx="234" cy="524.2" r="6.95"/><circle cx="130.7" cy="830.1" r="6.95"/><circle cx="113.4" cy="836.6" r="6.95"/><circle cx="118.6" cy="840.2" r="6.95"/><circle cx="267.9" cy="603.5" r="6.95"/><circle cx="648.6" cy="345.5" r="6.95"/><circle cx="538.7" cy="574.8" r="6.95"/><circle cx="120.3" cy="833.9" r="6.95"/><circle cx="196.5" cy="611.4" r="6.95"/><circle cx="113.2" cy="837.6" r="6.95"/><circle cx="536.3" cy="484" r="6.95"/><circle cx="125" cy="841.1" r="6.95"/><circle cx="269.3" cy="714.5" r="6.95"/><circle cx="473.5" cy="350.3" r="6.95"/><circle cx="513.3" cy="664.3" r="6.95"/><circle cx="675.6" cy="360.4" r="6.95"/><circle cx="113.1" cy="841.3" r="6.95"/><circle cx="125.6" cy="836.9" r="6.95"/><circle cx="233.3" cy="667.2" r="6.95"/><circle cx="187.6" cy="795.7" r="6.95"/><circle cx="483.5" cy="429.1" r="6.95"/><circle cx="529.4" cy="615.7" r="6.95"/><circle cx="297.1" cy="643" r="6.95"/><circle cx="125.5" cy="842.8" r="6.95"/><circle cx="380.7" cy="754.8" r="6.95"/><circle cx="111.5" cy="841.7" r="6.95"/><circle cx="373.6" cy="673.9" r="6.95"/><circle cx="278.8" cy="656" r="6.95"/><circle cx="125.7" cy="786.2" r="6.95"/><circle cx="111.3" cy="841.9" r="6.95"/><circle cx="112.4" cy="839" r="6.95"/><circle cx="259.6" cy="644.5" r="6.95"/><circle cx="286.3" cy="489" r="6.95"/><circle cx="215.9" cy="584.8" r="6.95"/><circle cx="315.3" cy="752.9" r="6.95"/><circle cx="513.1" cy="532.3" r="6.95"/><circle cx="343.9" cy="823" r="6.95"/><circle cx="176.3" cy="692.4" r="6.95"/><circle cx="204.6" cy="728.4" r="6.95"/><circle cx="317.2" cy="523.5" r="6.95"/><circle cx="218.4" cy="697" r="6.95"/><circle cx="159.9" cy="788.7" r="6.95"/><circle cx="682.2" cy="235.2" r="6.95"/><circle cx="176.1" cy="774.5" r="6.95"/><circle cx="147.7" cy="806.3" r="6.95"/><circle cx="422.5" cy="487.7" r="6.95"/><circle cx="534.6" cy="502.1" r="6.95"/><circle cx="426.8" cy="680.1" r="6.95"/><circle cx="313.4" cy="719.4" r="6.95"/><circle cx="179" cy="686.9" r="6.95"/><circle cx="322.3" cy="636.4" r="6.95"/><circle cx="309.6" cy="708" r="6.95"/><circle cx="301.9" cy="607.8" r="6.95"/><circle cx="215.9" cy="705.1" r="6.95"/><circle cx="125.2" cy="768.2" r="6.95"/><circle cx="118.3" cy="836" r="6.95"/><circle cx="225.5" cy="753.8" r="6.95"/><circle cx="113.5" cy="832.5" r="6.95"/><circle cx="431.2" cy="477" r="6.95"/><circle cx="595.3" cy="432.4" r="6.95"/><circle cx="496.7" cy="536.7" r="6.95"/><circle cx="455.6" cy="532" r="6.95"/><circle cx="138.6" cy="798.5" r="6.95"/><circle cx="345.3" cy="603" r="6.95"/><circle cx="494.5" cy="714.8" r="6.95"/><circle cx="464.1" cy="736.2" r="6.95"/><circle cx="214.8" cy="613.6" r="6.95"/><circle cx="601.8" cy="348.8" r="6.95"/><circle cx="664.2" cy="281.1" r="6.95"/><circle cx="356.7" cy="495.8" r="6.95"/><circle cx="248.3" cy="785.4" r="6.95"/><circle cx="471.8" cy="496.7" r="6.95"/><circle cx="111.3" cy="841.8" r="6.95"/><circle cx="118" cy="838.6" r="6.95"/><circle cx="167.7" cy="823.5" r="6.95"/><circle cx="315.2" cy="762.8" r="6.95"/><circle cx="397.6" cy="655.7" r="6.95"/><circle cx="403.6" cy="579.9" r="6.95"/><circle cx="163.5" cy="818.7" r="6.95"/><circle cx="145.1" cy="813.6" r="6.95"/><circle cx="309.6" cy="802.3" r="6.95"/><circle cx="147.4" cy="814.6" r="6.95"/><circle cx="574.8" cy="630.3" r="6.95"/><circle cx="537.1" cy="410.5" r="6.95"/><circle cx="306.5" cy="768.8" r="6.95"/><circle cx="189.4" cy="790" r="6.95"/><circle cx="688.8" cy="464.3" r="6.95"/><circle cx="138.5" cy="807.6" r="6.95"/><circle cx="472.2" cy="608.4" r="6.95"/><circle cx="154.1" cy="791.2" r="6.95"/><circle cx="598.6" cy="677.3" r="6.95"/><circle cx="145.5" cy="835.7" r="6.95"/><circle cx="392.2" cy="583.2" r="6.95"/><circle cx="383.1" cy="605" r="6.95"/><circle cx="610.1" cy="585.5" r="6.95"/><circle cx="262.3" cy="643.1" r="6.95"/><circle cx="437.1" cy="405.8" r="6.95"/><circle cx="234.9" cy="789.7" r="6.95"/><circle cx="502.1" cy="694.3" r="6.95"/><circle cx="455.9" cy="414.5" r="6.95"/><circle cx="279.6" cy="726.5" r="6.95"/><circle cx="317.6" cy="669.1" r="6.95"/><circle cx="113.9" cy="841" r="6.95"/><circle cx="386.3" cy="573.6" r="6.95"/><circle cx="306.4" cy="769.3" r="6.95"/><circle cx="277.7" cy="708.5" r="6.95"/><circle cx="299.1" cy="680.1" r="6.95"/><circle cx="626.3" cy="364.1" r="6.95"/><circle cx="490.4" cy="304.3" r="6.95"/><circle cx="626.5" cy="262.2" r="6.95"/><circle cx="446.8" cy="580.1" r="6.95"/><circle cx="464" cy="663.2" r="6.95"/><circle cx="181.4" cy="765.7" r="6.95"/><circle cx="411.7" cy="777.1" r="6.95"/><circle cx="403.5" cy="371.4" r="6.95"/><circle cx="156.2" cy="820.3" r="6.95"/><circle cx="112.7" cy="844.7" r="6.95"/><circle cx="111.7" cy="837.6" r="6.95"/><circle cx="135.9" cy="807.8" r="6.95"/><circle cx="514.8" cy="586.1" r="6.95"/><circle cx="474.4" cy="461.3" r="6.95"/><circle cx="400.2" cy="672.7" r="6.95"/><circle cx="128.8" cy="838.3" r="6.95"/><circle cx="263.3" cy="742.1" r="6.95"/><circle cx="342.2" cy="391.9" r="6.95"/><circle cx="139.5" cy="807.7" r="6.95"/><circle cx="295.3" cy="639.1" r="6.95"/><circle cx="255.3" cy="779.9" r="6.95"/><circle cx="143.6" cy="793.7" r="6.95"/><circle cx="125.7" cy="835.5" r="6.95"/><circle cx="123.5" cy="681.1" r="6.95"/><circle cx="148.8" cy="807.4" r="6.95"/><circle cx="592.6" cy="368.9" r="6.95"/><circle cx="382.5" cy="672.5" r="6.95"/><circle cx="289.2" cy="527.6" r="6.95"/><circle cx="124.4" cy="822.1" r="6.95"/><circle cx="421.2" cy="665.8" r="6.95"/><circle cx="496.7" cy="430" r="6.95"/><circle cx="130.7" cy="822" r="6.95"/><circle cx="283.7" cy="725.2" r="6.95"/><circle cx="179.5" cy="755" r="6.95"/><circle cx="380.6" cy="733.6" r="6.95"/><circle cx="523.2" cy="711.6" r="6.95"/><circle cx="373.2" cy="459.7" r="6.95"/><circle cx="248.7" cy="823.7" r="6.95"/><circle cx="479.3" cy="494.3" r="6.95"/><circle cx="146" cy="818.1" r="6.95"/><circle cx="134.2" cy="824.9" r="6.95"/><circle cx="327.5" cy="671.2" r="6.95"/><circle cx="387.4" cy="692.2" r="6.95"/><circle cx="628.1" cy="437.3" r="6.95"/><circle cx="118.6" cy="842.6" r="6.95"/><circle cx="239.6" cy="708.6" r="6.95"/><circle cx="356.7" cy="516.5" r="6.95"/><circle cx="286.9" cy="721.7" r="6.95"/><circle cx="588.7" cy="249.9" r="6.95"/><circle cx="149.7" cy="809.3" r="6.95"/><circle cx="330.5" cy="617" r="6.95"/><circle cx="658" cy="347.4" r="6.95"/><circle cx="201.7" cy="765.2" r="6.95"/><circle cx="617.8" cy="366.7" r="6.95"/><circle cx="327.4" cy="661.5" r="6.95"/><circle cx="112" cy="842.7" r="6.95"/><circle cx="116.5" cy="695.8" r="6.95"/><circle cx="275.2" cy="707.3" r="6.95"/><circle cx="354.9" cy="640.5" r="6.95"/><circle cx="484.1" cy="521.2" r="6.95"/><circle cx="512.5" cy="646.7" r="6.95"/><circle cx="498.7" cy="575.8" r="6.95"/><circle cx="119" cy="837.3" r="6.95"/><circle cx="196.4" cy="695.5" r="6.95"/><circle cx="556" cy="513.5" r="6.95"/><circle cx="395.1" cy="555.3" r="6.95"/><circle cx="231.3" cy="706.8" r="6.95"/><circle cx="114.5" cy="834.7" r="6.95"/><circle cx="115.3" cy="844.7" r="6.95"/><circle cx="171" cy="793.3" r="6.95"/><circle cx="119" cy="833.3" r="6.95"/><circle cx="207.4" cy="762.5" r="6.95"/><circle cx="419.6" cy="498.8" r="6.95"/><circle cx="118" cy="843.3" r="6.95"/><circle cx="201.2" cy="765.2" r="6.95"/><circle cx="168.5" cy="764.8" r="6.95"/><circle cx="445.5" cy="570" r="6.95"/><circle cx="273.1" cy="634.8" r="6.95"/><circle cx="140.3" cy="809.1" r="6.95"/><circle cx="238.8" cy="699.8" r="6.95"/><circle cx="351.1" cy="607" r="6.95"/><circle cx="112.5" cy="840.7" r="6.95"/><circle cx="631.4" cy="623.2" r="6.95"/><circle cx="395.1" cy="553.3" r="6.95"/><circle cx="560.9" cy="591.2" r="6.95"/><circle cx="120.5" cy="834.4" r="6.95"/><circle cx="170.6" cy="728.7" r="6.95"/><circle cx="301.2" cy="773" r="6.95"/><circle cx="125.3" cy="837.5" r="6.95"/><circle cx="221.6" cy="792.9" r="6.95"/><circle cx="114.3" cy="842.6" r="6.95"/><circle cx="286.9" cy="765.9" r="6.95"/><circle cx="386.4" cy="548.7" r="6.95"/><circle cx="190.8" cy="810" r="6.95"/><circle cx="233" cy="758.5" r="6.95"/><circle cx="500.8" cy="482" r="6.95"/><circle cx="551" cy="490.6" r="6.95"/><circle cx="116.9" cy="836.1" r="6.95"/><circle cx="113.5" cy="841.7" r="6.95"/><circle cx="297.4" cy="642.6" r="6.95"/><circle cx="567.5" cy="343.9" r="6.95"/><circle cx="131.5" cy="821.8" r="6.95"/><circle cx="294.7" cy="794.9" r="6.95"/><circle cx="255.7" cy="774.2" r="6.95"/><circle cx="453.3" cy="528.2" r="6.95"/><circle cx="530.1" cy="622.7" r="6.95"/><circle cx="122.3" cy="823" r="6.95"/><circle cx="154.9" cy="795.6" r="6.95"/><circle cx="302" cy="795.4" r="6.95"/><circle cx="431.6" cy="482.8" r="6.95"/><circle cx="410.8" cy="695.6" r="6.95"/><circle cx="199.4" cy="664.3" r="6.95"/><circle cx="189.2" cy="700.2" r="6.95"/><circle cx="475.3" cy="394" r="6.95"/><circle cx="515.5" cy="307.1" r="6.95"/><circle cx="331.5" cy="609.8" r="6.95"/><circle cx="312.9" cy="596.5" r="6.95"/><circle cx="343.2" cy="725.9" r="6.95"/><circle cx="126.7" cy="814.5" r="6.95"/><circle cx="273.2" cy="624.4" r="6.95"/><circle cx="251.2" cy="742.9" r="6.95"/><circle cx="256" cy="654.8" r="6.95"/><circle cx="254" cy="718.8" r="6.95"/><circle cx="185.4" cy="790.3" r="6.95"/><circle cx="377.3" cy="449.8" r="6.95"/><circle cx="179" cy="823.1" r="6.95"/><circle cx="675.6" cy="268" r="6.95"/><circle cx="133.8" cy="765" r="6.95"/><circle cx="185" cy="830.5" r="6.95"/><circle cx="146.4" cy="810.2" r="6.95"/><circle cx="209.9" cy="793.5" r="6.95"/><circle cx="136.7" cy="824.6" r="6.95"/><circle cx="135.7" cy="812.1" r="6.95"/><circle cx="111.3" cy="840.6" r="6.95"/><circle cx="112.6" cy="844.7" r="6.95"/><circle cx="197.1" cy="657.1" r="6.95"/><circle cx="117.1" cy="744.7" r="6.95"/><circle cx="429.2" cy="486.1" r="6.95"/><circle cx="319.3" cy="487.7" r="6.95"/><circle cx="241.8" cy="698.6" r="6.95"/><circle cx="164.4" cy="816.1" r="6.95"/><circle cx="480.2" cy="590" r="6.95"/><circle cx="192.8" cy="759.4" r="6.95"/><circle cx="206.7" cy="728.3" r="6.95"/><circle cx="581.4" cy="707.5" r="6.95"/><circle cx="115" cy="838.8" r="6.95"/><circle cx="711.4" cy="522.2" r="6.95"/><circle cx="394.8" cy="683.8" r="6.95"/><circle cx="327.4" cy="533" r="6.95"/><circle cx="492.3" cy="362.1" r="6.95"/><circle cx="173.5" cy="831" r="6.95"/><circle cx="116.9" cy="840.7" r="6.95"/><circle cx="242.1" cy="710.4" r="6.95"/><circle cx="252.8" cy="536.3" r="6.95"/><circle cx="623.2" cy="472.5" r="6.95"/><circle cx="601.4" cy="206.5" r="6.95"/><circle cx="289.7" cy="734.3" r="6.95"/><circle cx="361.1" cy="579.7" r="6.95"/><circle cx="148.1" cy="763.5" r="6.95"/><circle cx="633.3" cy="697.8" r="6.95"/><circle cx="423.9" cy="574.3" r="6.95"/><circle cx="133.7" cy="826.3" r="6.95"/><circle cx="259.2" cy="745.3" r="6.95"/><circle cx="598.6" cy="585.5" r="6.95"/><circle cx="319.2" cy="609.6" r="6.95"/><circle cx="274.4" cy="769.3" r="6.95"/><circle cx="471" cy="648.6" r="6.95"/><circle cx="146.8" cy="805.6" r="6.95"/><circle cx="123.6" cy="840.2" r="6.95"/><circle cx="297.2" cy="750.7" r="6.95"/><circle cx="224.4" cy="663.7" r="6.95"/><circle cx="209" cy="692" r="6.95"/><circle cx="145.1" cy="791" r="6.95"/><circle cx="369.8" cy="679.9" r="6.95"/><circle cx="598.2" cy="366.5" r="6.95"/><circle cx="218.4" cy="839.5" r="6.95"/><circle cx="130.3" cy="833.4" r="6.95"/><circle cx="120.4" cy="843.9" r="6.95"/><circle cx="111.5" cy="844.7" r="6.95"/><circle cx="154" cy="732.8" r="6.95"/><circle cx="585.5" cy="249.1" r="6.95"/><circle cx="207" cy="581.2" r="6.95"/><circle cx="492.4" cy="618.3" r="6.95"/><circle cx="111.3" cy="841.6" r="6.95"/><circle cx="111.9" cy="843.8" r="6.95"/><circle cx="142.3" cy="808.7" r="6.95"/><circle cx="678.1" cy="548.8" r="6.95"/><circle cx="316.8" cy="666.4" r="6.95"/><circle cx="235.4" cy="697.8" r="6.95"/><circle cx="325.1" cy="604.9" r="6.95"/><circle cx="138.1" cy="787.3" r="6.95"/><circle cx="211.3" cy="738.9" r="6.95"/><circle cx="163.3" cy="775.5" r="6.95"/><circle cx="406.8" cy="647.4" r="6.95"/><circle cx="500.8" cy="434.1" r="6.95"/><circle cx="296" cy="739.7" r="6.95"/><circle cx="115.6" cy="839.1" r="6.95"/><circle cx="359.4" cy="755.5" r="6.95"/><circle cx="564.2" cy="685.5" r="6.95"/><circle cx="214.3" cy="516.3" r="6.95"/><circle cx="462.2" cy="518.5" r="6.95"/><circle cx="254.6" cy="695.4" r="6.95"/><circle cx="284.3" cy="809.9" r="6.95"/><circle cx="335.4" cy="759.6" r="6.95"/><circle cx="582.5" cy="345.1" r="6.95"/><circle cx="126.6" cy="831.3" r="6.95"/><circle cx="285.1" cy="688.5" r="6.95"/><circle cx="160.1" cy="804.7" r="6.95"/><circle cx="190.7" cy="788.9" r="6.95"/><circle cx="150.6" cy="788.9" r="6.95"/><circle cx="173.1" cy="761.8" r="6.95"/><circle cx="297.1" cy="753" r="6.95"/><circle cx="158.5" cy="790" r="6.95"/><circle cx="319.7" cy="458" r="6.95"/><circle cx="421.5" cy="737" r="6.95"/><circle cx="280.6" cy="689.3" r="6.95"/><circle cx="118.1" cy="838.7" r="6.95"/><circle cx="140.2" cy="812.2" r="6.95"/><circle cx="698.6" cy="222.1" r="6.95"/><circle cx="113.9" cy="840.8" r="6.95"/><circle cx="196.2" cy="785" r="6.95"/><circle cx="339" cy="583.2" r="6.95"/><circle cx="504" cy="638.2" r="6.95"/><circle cx="205.5" cy="709.1" r="6.95"/><circle cx="169.6" cy="789" r="6.95"/><circle cx="112.8" cy="838" r="6.95"/><circle cx="334.6" cy="571.8" r="6.95"/><circle cx="239" cy="712" r="6.95"/><circle cx="161.1" cy="811.7" r="6.95"/><circle cx="172.1" cy="729" r="6.95"/><circle cx="123.3" cy="831.8" r="6.95"/><circle cx="176.7" cy="779.4" r="6.95"/><circle cx="172.8" cy="780" r="6.95"/><circle cx="270.6" cy="722" r="6.95"/><circle cx="218.7" cy="738.7" r="6.95"/><circle cx="179.2" cy="753.2" r="6.95"/><circle cx="189.3" cy="778.7" r="6.95"/><circle cx="186.1" cy="772" r="6.95"/><circle cx="260.5" cy="635.2" r="6.95"/><circle cx="277.5" cy="711.1" r="6.95"/><circle cx="148.9" cy="801.5" r="6.95"/><circle cx="259.5" cy="749.2" r="6.95"/><circle cx="114.5" cy="838.4" r="6.95"/><circle cx="239.9" cy="720.3" r="6.95"/><circle cx="199.2" cy="706.2" r="6.95"/><circle cx="475" cy="671.2" r="6.95"/><circle cx="408.4" cy="750.1" r="6.95"/><circle cx="480.9" cy="619.1" r="6.95"/><circle cx="135" cy="814.6" r="6.95"/><circle cx="172" cy="744.7" r="6.95"/><circle cx="610.6" cy="344.9" r="6.95"/><circle cx="595.3" cy="663.4" r="6.95"/><circle cx="152.6" cy="798.9" r="6.95"/><circle cx="239.8" cy="634.3" r="6.95"/><circle cx="120.4" cy="840.4" r="6.95"/><circle cx="378.2" cy="755" r="6.95"/><circle cx="644.5" cy="678.1" r="6.95"/><circle cx="114.3" cy="839" r="6.95"/><circle cx="306.4" cy="732.7" r="6.95"/><circle cx="158.4" cy="813.8" r="6.95"/><circle cx="656" cy="430.7" r="6.95"/><circle cx="534.3" cy="401.9" r="6.95"/><circle cx="236.7" cy="704.6" r="6.95"/><circle cx="444.4" cy="606.2" r="6.95"/><circle cx="119.6" cy="836.5" r="6.95"/><circle cx="617.4" cy="757.1" r="6.95"/><circle cx="170.5" cy="755.4" r="6.95"/><circle cx="343.3" cy="454.3" r="6.95"/><circle cx="570.7" cy="480.7" r="6.95"/><circle cx="156.6" cy="807.9" r="6.95"/><circle cx="193.7" cy="756.5" r="6.95"/><circle cx="437.6" cy="619.9" r="6.95"/><circle cx="190.4" cy="820.1" r="6.95"/><circle cx="240.6" cy="717.8" r="6.95"/><circle cx="693.7" cy="253.2" r="6.95"/><circle cx="367.4" cy="676.9" r="6.95"/><circle cx="222" cy="817.5" r="6.95"/><circle cx="274.6" cy="780.1" r="6.95"/><circle cx="362.6" cy="586.3" r="6.95"/><circle cx="244" cy="766.9" r="6.95"/><circle cx="376.5" cy="493.5" r="6.95"/><circle cx="159.5" cy="774" r="6.95"/><circle cx="432.4" cy="638.6" r="6.95"/><circle cx="175.5" cy="828.2" r="6.95"/><circle cx="214.5" cy="639" r="6.95"/><circle cx="189.6" cy="713" r="6.95"/><circle cx="217.8" cy="715.6" r="6.95"/><circle cx="641.2" cy="426.6" r="6.95"/><circle cx="147.2" cy="810.5" r="6.95"/><circle cx="141.4" cy="838.9" r="6.95"/><circle cx="116" cy="836.4" r="6.95"/><circle cx="264" cy="667.1" r="6.95"/><circle cx="405.6" cy="575.9" r="6.95"/><circle cx="122.6" cy="838.9" r="6.95"/><circle cx="116.2" cy="841.5" r="6.95"/><circle cx="274.3" cy="746.9" r="6.95"/><circle cx="136.2" cy="820.8" r="6.95"/><circle cx="413.1" cy="648.8" r="6.95"/><circle cx="419.4" cy="310.4" r="6.95"/><circle cx="281" cy="732.5" r="6.95"/><circle cx="272.6" cy="564.3" r="6.95"/><circle cx="111.8" cy="841.6" r="6.95"/><circle cx="228.3" cy="820.5" r="6.95"/><circle cx="285.7" cy="683.1" r="6.95"/><circle cx="198.3" cy="736.2" r="6.95"/><circle cx="351.7" cy="478.7" r="6.95"/><circle cx="337.9" cy="739.9" r="6.95"/><circle cx="634.8" cy="297.9" r="6.95"/><circle cx="244" cy="683.1" r="6.95"/><circle cx="112.6" cy="841.6" r="6.95"/><circle cx="604.3" cy="610.1" r="6.95"/><circle cx="274" cy="737.5" r="6.95"/><circle cx="167.5" cy="803" r="6.95"/><circle cx="520.9" cy="606.1" r="6.95"/><circle cx="157.8" cy="802.2" r="6.95"/><circle cx="112.3" cy="842.5" r="6.95"/><circle cx="228" cy="783.7" r="6.95"/><circle cx="261.1" cy="693.4" r="6.95"/><circle cx="256.9" cy="716.1" r="6.95"/><circle cx="647" cy="342.1" r="6.95"/><circle cx="346.9" cy="672" r="6.95"/><circle cx="678.9" cy="284.4" r="6.95"/><circle cx="119.2" cy="836.2" r="6.95"/><circle cx="176.8" cy="584.2" r="6.95"/><circle cx="112.4" cy="842.7" r="6.95"/><circle cx="257.5" cy="605.1" r="6.95"/><circle cx="240.9" cy="619.3" r="6.95"/><circle cx="138.8" cy="818.9" r="6.95"/><circle cx="287.3" cy="693.4" r="6.95"/><circle cx="407.7" cy="614.6" r="6.95"/><circle cx="230.4" cy="733.2" r="6.95"/><circle cx="116.7" cy="842" r="6.95"/><circle cx="303.4" cy="589.7" r="6.95"/><circle cx="253.7" cy="710.6" r="6.95"/><circle cx="679.7" cy="471.7" r="6.95"/><circle cx="669.1" cy="433.2" r="6.95"/><circle cx="484.9" cy="513" r="6.95"/><circle cx="407.7" cy="532.4" r="6.95"/><circle cx="412.5" cy="525" r="6.95"/><circle cx="146" cy="810.6" r="6.95"/><circle cx="193.5" cy="819.8" r="6.95"/><circle cx="499.6" cy="665.2" r="6.95"/><circle cx="312.7" cy="434.1" r="6.95"/><circle cx="114.9" cy="843.1" r="6.95"/><circle cx="156.3" cy="798.9" r="6.95"/><circle cx="278.2" cy="306.3" r="6.95"/><circle cx="382.7" cy="491.9" r="6.95"/><circle cx="557.6" cy="697.8" r="6.95"/><circle cx="561.7" cy="597" r="6.95"/><circle cx="717.4" cy="220.4" r="6.95"/><circle cx="345.4" cy="698.1" r="6.95"/><circle cx="560.9" cy="497.1" r="6.95"/><circle cx="114.3" cy="839.2" r="6.95"/><circle cx="146.1" cy="786" r="6.95"/><circle cx="112.7" cy="826.2" r="6.95"/><circle cx="194.2" cy="806.5" r="6.95"/><circle cx="300.7" cy="658.8" r="6.95"/><circle cx="217.7" cy="644.8" r="6.95"/><circle cx="340.2" cy="417.1" r="6.95"/><circle cx="134.4" cy="826" r="6.95"/><circle cx="259.9" cy="753.3" r="6.95"/><circle cx="179.5" cy="788" r="6.95"/><circle cx="318.5" cy="624.3" r="6.95"/><circle cx="302.8" cy="700.1" r="6.95"/><circle cx="329.6" cy="816.4" r="6.95"/><circle cx="115.1" cy="842.2" r="6.95"/><circle cx="112.4" cy="843.2" r="6.95"/><circle cx="123.4" cy="836.3" r="6.95"/><circle cx="390.7" cy="702.2" r="6.95"/><circle cx="114.1" cy="842.8" r="6.95"/><circle cx="292.9" cy="782.5" r="6.95"/><circle cx="700.2" cy="234.4" r="6.95"/><circle cx="152.2" cy="805.7" r="6.95"/><circle cx="124.6" cy="843.5" r="6.95"/><circle cx="111.4" cy="722.2" r="6.95"/><circle cx="284.9" cy="827" r="6.95"/><circle cx="394" cy="701.9" r="6.95"/><circle cx="160.3" cy="720.4" r="6.95"/><circle cx="457.6" cy="714.8" r="6.95"/><circle cx="395.6" cy="533.9" r="6.95"/><circle cx="119.9" cy="838.2" r="6.95"/><circle cx="553.8" cy="329.4" r="6.95"/><circle cx="520.9" cy="692.6" r="6.95"/><circle cx="360.5" cy="778.8" r="6.95"/><circle cx="284.7" cy="727.6" r="6.95"/><circle cx="302.8" cy="725.9" r="6.95"/><circle cx="311.4" cy="495.2" r="6.95"/><circle cx="390.6" cy="661.7" r="6.95"/><circle cx="578.9" cy="538.1" r="6.95"/><circle cx="191.8" cy="646.1" r="6.95"/><circle cx="121.7" cy="840.6" r="6.95"/><circle cx="579.3" cy="396.6" r="6.95"/><circle cx="304.4" cy="609.3" r="6.95"/><circle cx="186.7" cy="784" r="6.95"/><circle cx="345.3" cy="686.5" r="6.95"/><circle cx="383.9" cy="516.5" r="6.95"/><circle cx="520.5" cy="695.6" r="6.95"/><circle cx="289.3" cy="709.5" r="6.95"/><circle cx="112.5" cy="844.7" r="6.95"/><circle cx="404.4" cy="555.1" r="6.95"/><circle cx="567.4" cy="236.3" r="6.95"/><circle cx="322.4" cy="726" r="6.95"/><circle cx="142" cy="826.9" r="6.95"/><circle cx="450" cy="583.6" r="6.95"/><circle cx="153.2" cy="833.3" r="6.95"/><circle cx="351.3" cy="471.2" r="6.95"/><circle cx="482.2" cy="724.7" r="6.95"/><circle cx="624.8" cy="474.2" r="6.95"/><circle cx="295" cy="793" r="6.95"/><circle cx="329.5" cy="641.4" r="6.95"/><circle cx="189.9" cy="836.2" r="6.95"/><circle cx="112.8" cy="707.4" r="6.95"/><circle cx="306.2" cy="655.1" r="6.95"/><circle cx="268.9" cy="709.1" r="6.95"/><circle cx="130.9" cy="826.4" r="6.95"/><circle cx="209.5" cy="755.4" r="6.95"/><circle cx="163.6" cy="832.4" r="6.95"/><circle cx="197.2" cy="689.5" r="6.95"/><circle cx="156.1" cy="830.1" r="6.95"/><circle cx="263.9" cy="677.4" r="6.95"/><circle cx="484.6" cy="404.7" r="6.95"/><circle cx="436.2" cy="599" r="6.95"/><circle cx="119.4" cy="830.8" r="6.95"/><circle cx="489.6" cy="741.9" r="6.95"/><circle cx="272.7" cy="724.6" r="6.95"/><circle cx="481.8" cy="499" r="6.95"/><circle cx="111.9" cy="841.1" r="6.95"/><circle cx="120.2" cy="824.6" r="6.95"/><circle cx="283.8" cy="728.1" r="6.95"/><circle cx="348.2" cy="740" r="6.95"/><circle cx="119.7" cy="835.3" r="6.95"/><circle cx="671.5" cy="268" r="6.95"/><circle cx="146.7" cy="808.2" r="6.95"/><circle cx="411.4" cy="431.6" r="6.95"/><circle cx="112.4" cy="841.9" r="6.95"/><circle cx="144.6" cy="795" r="6.95"/><circle cx="129.3" cy="808.5" r="6.95"/><circle cx="357.2" cy="580.9" r="6.95"/><circle cx="349.2" cy="496.7" r="6.95"/><circle cx="270.8" cy="706.6" r="6.95"/><circle cx="222.5" cy="717.7" r="6.95"/><circle cx="320.4" cy="692" r="6.95"/><circle cx="201.1" cy="744.4" r="6.95"/><circle cx="557.6" cy="463.5" r="6.95"/><circle cx="361.3" cy="690.2" r="6.95"/><circle cx="587.1" cy="263.9" r="6.95"/><circle cx="491.7" cy="475.4" r="6.95"/><circle cx="144.3" cy="834.2" r="6.95"/><circle cx="157.7" cy="822.8" r="6.95"/><circle cx="207.1" cy="742.9" r="6.95"/><circle cx="132.4" cy="807.7" r="6.95"/><circle cx="258.1" cy="674.9" r="6.95"/><circle cx="505.1" cy="391.2" r="6.95"/><circle cx="347.9" cy="740" r="6.95"/><circle cx="152.3" cy="788.7" r="6.95"/><circle cx="355.5" cy="725.9" r="6.95"/><circle cx="175.8" cy="813.2" r="6.95"/><circle cx="116.9" cy="838.3" r="6.95"/><circle cx="280.5" cy="515.2" r="6.95"/><circle cx="365.6" cy="613.9" r="6.95"/><circle cx="296.6" cy="554.4" r="6.95"/><circle cx="156" cy="788.3" r="6.95"/><circle cx="674.8" cy="610.1" r="6.95"/><circle cx="160.7" cy="800.6" r="6.95"/><circle cx="323.4" cy="679.4" r="6.95"/><circle cx="433.3" cy="491" r="6.95"/><circle cx="298.1" cy="685.7" r="6.95"/><circle cx="123.6" cy="836.6" r="6.95"/><circle cx="134.3" cy="798.1" r="6.95"/><circle cx="391.4" cy="696.5" r="6.95"/><circle cx="453.3" cy="565.7" r="6.95"/><circle cx="226.3" cy="419.3" r="6.95"/><circle cx="115" cy="838.5" r="6.95"/><circle cx="507" cy="496.5" r="6.95"/><circle cx="116" cy="838.1" r="6.95"/><circle cx="337.6" cy="583.6" r="6.95"/><circle cx="141.2" cy="805.9" r="6.95"/><circle cx="112" cy="844.2" r="6.95"/><circle cx="621.3" cy="350.8" r="6.95"/><circle cx="433.2" cy="583" r="6.95"/><circle cx="117.6" cy="842.5" r="6.95"/><circle cx="226" cy="832" r="6.95"/><circle cx="149.6" cy="799.8" r="6.95"/><circle cx="603.5" cy="604.3" r="6.95"/><circle cx="418.5" cy="595.1" r="6.95"/><circle cx="165" cy="733.3" r="6.95"/><circle cx="426" cy="511.1" r="6.95"/><circle cx="264.6" cy="699.8" r="6.95"/><circle cx="528.9" cy="728" r="6.95"/><circle cx="542" cy="651.1" r="6.95"/><circle cx="313.9" cy="680.5" r="6.95"/><circle cx="181.2" cy="761.4" r="6.95"/><circle cx="293.7" cy="714.5" r="6.95"/><circle cx="181.2" cy="754.3" r="6.95"/><circle cx="423.6" cy="678" r="6.95"/><circle cx="178.6" cy="759.8" r="6.95"/><circle cx="404.9" cy="628.2" r="6.95"/><circle cx="681.4" cy="514.4" r="6.95"/><circle cx="155.5" cy="783.7" r="6.95"/><circle cx="203.9" cy="769.3" r="6.95"/><circle cx="275.2" cy="786.3" r="6.95"/><circle cx="138" cy="815.3" r="6.95"/><circle cx="477.4" cy="625.3" r="6.95"/><circle cx="126.2" cy="837.8" r="6.95"/><circle cx="703.5" cy="329.3" r="6.95"/><circle cx="275.4" cy="688.1" r="6.95"/><circle cx="260.1" cy="717.5" r="6.95"/><circle cx="627.3" cy="631.4" r="6.95"/><circle cx="657.6" cy="681.4" r="6.95"/><circle cx="454.7" cy="611.1" r="6.95"/><circle cx="172.4" cy="768.7" r="6.95"/><circle cx="125" cy="834.3" r="6.95"/><circle cx="707.6" cy="408" r="6.95"/><circle cx="301.3" cy="652.7" r="6.95"/><circle cx="357.5" cy="701.6" r="6.95"/><circle cx="203.7" cy="764.1" r="6.95"/><circle cx="328.1" cy="650.1" r="6.95"/><circle cx="256.3" cy="782.4" r="6.95"/><circle cx="118.3" cy="838.9" r="6.95"/><circle cx="126.4" cy="830.3" r="6.95"/><circle cx="234.7" cy="754.9" r="6.95"/><circle cx="111.4" cy="829.1" r="6.95"/><circle cx="266.2" cy="629.1" r="6.95"/><circle cx="458" cy="474.5" r="6.95"/><circle cx="172.4" cy="738.9" r="6.95"/><circle cx="111.3" cy="844.7" r="6.95"/><circle cx="284.5" cy="693" r="6.95"/><circle cx="145.5" cy="811.1" r="6.95"/><circle cx="120.3" cy="829.2" r="6.95"/><circle cx="569.1" cy="645.3" r="6.95"/><circle cx="295.9" cy="584.9" r="6.95"/><circle cx="346.4" cy="700.6" r="6.95"/><circle cx="142.9" cy="831.8" r="6.95"/><circle cx="564.2" cy="426.6" r="6.95"/><circle cx="202.1" cy="790" r="6.95"/><circle cx="369.5" cy="670.6" r="6.95"/><circle cx="240.9" cy="741.2" r="6.95"/><circle cx="290.5" cy="742.6" r="6.95"/><circle cx="143.7" cy="814.2" r="6.95"/><circle cx="112.6" cy="842.5" r="6.95"/><circle cx="169.9" cy="758.9" r="6.95"/><circle cx="370.5" cy="656.6" r="6.95"/><circle cx="307.3" cy="521.8" r="6.95"/><circle cx="410.9" cy="778.8" r="6.95"/><circle cx="185.8" cy="776.5" r="6.95"/><circle cx="300.6" cy="738" r="6.95"/><circle cx="117.2" cy="839.1" r="6.95"/><circle cx="422.5" cy="654.2" r="6.95"/><circle cx="415" cy="533.9" r="6.95"/><circle cx="469.5" cy="502.9" r="6.95"/><circle cx="112" cy="836.5" r="6.95"/><circle cx="243" cy="588.1" r="6.95"/><circle cx="258.2" cy="762.9" r="6.95"/><circle cx="601.9" cy="498.8" r="6.95"/><circle cx="237.4" cy="366.3" r="6.95"/><circle cx="474.3" cy="503.9" r="6.95"/><circle cx="233.1" cy="478.3" r="6.95"/><circle cx="116.9" cy="843.6" r="6.95"/><circle cx="284.8" cy="750.8" r="6.95"/><circle cx="303.3" cy="606.8" r="6.95"/><circle cx="322.2" cy="551.1" r="6.95"/><circle cx="298.3" cy="627.2" r="6.95"/><circle cx="566.9" cy="415.9" r="6.95"/><circle cx="176.6" cy="788.4" r="6.95"/><circle cx="167.1" cy="803.1" r="6.95"/><circle cx="457.7" cy="554.9" r="6.95"/><circle cx="155.6" cy="809.5" r="6.95"/><circle cx="491.7" cy="452.2" r="6.95"/><circle cx="344.3" cy="548.7" r="6.95"/><circle cx="397.3" cy="673.1" r="6.95"/><circle cx="357.7" cy="761.5" r="6.95"/><circle cx="298.2" cy="526.8" r="6.95"/><circle cx="117.2" cy="838.9" r="6.95"/><circle cx="131.7" cy="833" r="6.95"/><circle cx="327.4" cy="498.7" r="6.95"/><circle cx="134.5" cy="696" r="6.95"/><circle cx="125.9" cy="835.5" r="6.95"/><circle cx="289.2" cy="674.1" r="6.95"/><circle cx="169.1" cy="652" r="6.95"/><circle cx="186.8" cy="736.5" r="6.95"/><circle cx="219" cy="726.9" r="6.95"/><circle cx="120.2" cy="837.3" r="6.95"/><circle cx="625.6" cy="675.2" r="6.95"/><circle cx="113.2" cy="843.9" r="6.95"/><circle cx="398.6" cy="621.4" r="6.95"/><circle cx="172.6" cy="823.3" r="6.95"/><circle cx="311.4" cy="496.7" r="6.95"/><circle cx="563.3" cy="628.9" r="6.95"/><circle cx="214" cy="747.5" r="6.95"/><circle cx="657.6" cy="281.1" r="6.95"/><circle cx="494.3" cy="548.3" r="6.95"/><circle cx="214.6" cy="611.9" r="6.95"/><circle cx="297.1" cy="771.7" r="6.95"/><circle cx="290.5" cy="683" r="6.95"/><circle cx="111.3" cy="844.7" r="6.95"/><circle cx="193" cy="810.2" r="6.95"/><circle cx="186.5" cy="806.8" r="6.95"/><circle cx="114" cy="840.8" r="6.95"/><circle cx="143.6" cy="810" r="6.95"/><circle cx="419.9" cy="603.7" r="6.95"/><circle cx="551" cy="648.6" r="6.95"/><circle cx="206.1" cy="774.8" r="6.95"/><circle cx="111.5" cy="840.5" r="6.95"/><circle cx="338.5" cy="559.4" r="6.95"/><circle cx="466.1" cy="669.1" r="6.95"/><circle cx="234.8" cy="618" r="6.95"/><circle cx="214.8" cy="737.6" r="6.95"/><circle cx="631.4" cy="426.6" r="6.95"/><circle cx="228.3" cy="751.8" r="6.95"/><circle cx="560.9" cy="534.8" r="6.95"/><circle cx="199.6" cy="805.1" r="6.95"/><circle cx="138.6" cy="831.1" r="6.95"/><circle cx="129.3" cy="832.8" r="6.95"/><circle cx="426.7" cy="616.1" r="6.95"/><circle cx="123.3" cy="835" r="6.95"/><circle cx="575.4" cy="327.4" r="6.95"/><circle cx="120.4" cy="838.1" r="6.95"/><circle cx="161" cy="806.1" r="6.95"/><circle cx="119.1" cy="830.7" r="6.95"/><circle cx="417.3" cy="538.7" r="6.95"/><circle cx="174.5" cy="774.6" r="6.95"/><circle cx="144.9" cy="786.1" r="6.95"/><circle cx="243.6" cy="701.2" r="6.95"/><circle cx="318.4" cy="708.4" r="6.95"/><circle cx="305.4" cy="786.7" r="6.95"/><circle cx="161.5" cy="775.1" r="6.95"/><circle cx="131.7" cy="798.7" r="6.95"/><circle cx="352.5" cy="541.2" r="6.95"/><circle cx="150.4" cy="815.1" r="6.95"/><circle cx="201.7" cy="839.4" r="6.95"/><circle cx="191.4" cy="768.3" r="6.95"/><circle cx="264.3" cy="669.4" r="6.95"/><circle cx="181" cy="823.6" r="6.95"/><circle cx="125.3" cy="827.5" r="6.95"/><circle cx="308.5" cy="605.1" r="6.95"/><circle cx="162.8" cy="806" r="6.95"/><circle cx="632.7" cy="327.4" r="6.95"/><circle cx="118.9" cy="841.9" r="6.95"/><circle cx="581.4" cy="704.4" r="6.95"/><circle cx="182.1" cy="819.7" r="6.95"/><circle cx="128.7" cy="834.5" r="6.95"/><circle cx="323" cy="624.9" r="6.95"/><circle cx="180.6" cy="828.6" r="6.95"/><circle cx="113.9" cy="842.8" r="6.95"/><circle cx="279.4" cy="607.2" r="6.95"/><circle cx="670.7" cy="510.3" r="6.95"/><circle cx="557.8" cy="293.4" r="6.95"/><circle cx="125.8" cy="831.3" r="6.95"/><circle cx="113" cy="838.4" r="6.95"/><circle cx="157.4" cy="778.1" r="6.95"/><circle cx="587.4" cy="266.3" r="6.95"/><circle cx="119.9" cy="839.1" r="6.95"/><circle cx="153.4" cy="809.8" r="6.95"/><circle cx="611.7" cy="492.2" r="6.95"/><circle cx="115.6" cy="841" r="6.95"/><circle cx="253.9" cy="742.6" r="6.95"/><circle cx="355.6" cy="635.8" r="6.95"/><circle cx="152.2" cy="798" r="6.95"/><circle cx="204.8" cy="782.8" r="6.95"/><circle cx="135.6" cy="813.7" r="6.95"/><circle cx="419.8" cy="695" r="6.95"/><circle cx="155.4" cy="805" r="6.95"/><circle cx="334.6" cy="596.6" r="6.95"/><circle cx="471.5" cy="324.3" r="6.95"/><circle cx="264.7" cy="683.2" r="6.95"/><circle cx="384.7" cy="519.8" r="6.95"/><circle cx="420.7" cy="644.8" r="6.95"/><circle cx="433.2" cy="520.4" r="6.95"/><circle cx="447.1" cy="681.4" r="6.95"/><circle cx="451.2" cy="496.7" r="6.95"/><circle cx="317.9" cy="653" r="6.95"/><circle cx="414.3" cy="471.2" r="6.95"/><circle cx="443.6" cy="448.1" r="6.95"/><circle cx="396.9" cy="785.3" r="6.95"/><circle cx="215" cy="673.2" r="6.95"/><circle cx="224.6" cy="737.6" r="6.95"/><circle cx="158.6" cy="811" r="6.95"/><circle cx="169" cy="816.4" r="6.95"/><circle cx="169.6" cy="771.6" r="6.95"/><circle cx="200.3" cy="768.8" r="6.95"/><circle cx="514" cy="697.5" r="6.95"/><circle cx="491.5" cy="568.2" r="6.95"/><circle cx="236.7" cy="678.4" r="6.95"/><circle cx="131.4" cy="829.4" r="6.95"/><circle cx="464.9" cy="568" r="6.95"/><circle cx="200.9" cy="779.2" r="6.95"/><circle cx="201.5" cy="796.5" r="6.95"/><circle cx="298.1" cy="643.3" r="6.95"/><circle cx="111.9" cy="837.4" r="6.95"/><circle cx="384" cy="752" r="6.95"/><circle cx="266.9" cy="636.6" r="6.95"/><circle cx="275.8" cy="672.9" r="6.95"/><circle cx="144.2" cy="812.8" r="6.95"/><circle cx="434.9" cy="544.3" r="6.95"/><circle cx="169.5" cy="699.1" r="6.95"/><circle cx="589.2" cy="187.3" r="6.95"/><circle cx="111.3" cy="844.7" r="6.95"/><circle cx="143.4" cy="825.3" r="6.95"/><circle cx="288.3" cy="608.4" r="6.95"/><circle cx="175" cy="736.7" r="6.95"/><circle cx="116.1" cy="843.1" r="6.95"/><circle cx="119.3" cy="834.5" r="6.95"/><circle cx="505.8" cy="475.4" r="6.95"/><circle cx="315.6" cy="679.9" r="6.95"/><circle cx="317.4" cy="748.1" r="6.95"/><circle cx="449.6" cy="640.9" r="6.95"/><circle cx="163.7" cy="830.8" r="6.95"/><circle cx="167.9" cy="790.4" r="6.95"/><circle cx="148.9" cy="794.4" r="6.95"/><circle cx="173.7" cy="757.9" r="6.95"/><circle cx="394.5" cy="571.2" r="6.95"/><circle cx="444.6" cy="542.9" r="6.95"/><circle cx="114.1" cy="840" r="6.95"/><circle cx="467.6" cy="695.8" r="6.95"/><circle cx="148.5" cy="807.9" r="6.95"/><circle cx="312.4" cy="696.9" r="6.95"/><circle cx="347.5" cy="670.1" r="6.95"/><circle cx="187.1" cy="621.8" r="6.95"/><circle cx="221.2" cy="721" r="6.95"/><circle cx="168.1" cy="786.8" r="6.95"/><circle cx="275.3" cy="751" r="6.95"/><circle cx="598.3" cy="326.1" r="6.95"/><circle cx="446.1" cy="597.6" r="6.95"/><circle cx="525.5" cy="600.9" r="6.95"/><circle cx="111.3" cy="844.7" r="6.95"/><circle cx="310.1" cy="672.9" r="6.95"/><circle cx="335.4" cy="650.2" r="6.95"/><circle cx="115.6" cy="839.6" r="6.95"/><circle cx="214.9" cy="745.8" r="6.95"/><circle cx="112.9" cy="844.7" r="6.95"/><circle cx="202.9" cy="769.7" r="6.95"/><circle cx="125.3" cy="837.7" r="6.95"/><circle cx="147.1" cy="803.4" r="6.95"/><circle cx="114" cy="837.6" r="6.95"/><circle cx="662.8" cy="324.3" r="6.95"/><circle cx="396.1" cy="701.8" r="6.95"/><circle cx="118.7" cy="838.3" r="6.95"/><circle cx="425" cy="555.5" r="6.95"/><circle cx="170.7" cy="806.1" r="6.95"/><circle cx="670.7" cy="259.8" r="6.95"/><circle cx="641.9" cy="360" r="6.95"/><circle cx="657.6" cy="319.5" r="6.95"/><circle cx="228" cy="671.7" r="6.95"/><circle cx="191.2" cy="750.4" r="6.95"/><circle cx="637.9" cy="537.3" r="6.95"/><circle cx="153.1" cy="811" r="6.95"/><circle cx="303.3" cy="768.7" r="6.95"/><circle cx="481.2" cy="499.5" r="6.95"/><circle cx="413.2" cy="610.1" r="6.95"/><circle cx="111.9" cy="832.5" r="6.95"/><circle cx="534.6" cy="525" r="6.95"/><circle cx="540" cy="335.9" r="6.95"/><circle cx="172.3" cy="803.5" r="6.95"/><circle cx="140.8" cy="807.9" r="6.95"/><circle cx="111.3" cy="842.6" r="6.95"/><circle cx="130.1" cy="819.3" r="6.95"/><circle cx="130.8" cy="815.1" r="6.95"/><circle cx="428.8" cy="573.4" r="6.95"/><circle cx="137.5" cy="817.8" r="6.95"/><circle cx="634.7" cy="574" r="6.95"/><circle cx="371.3" cy="605.4" r="6.95"/><circle cx="283.7" cy="685.7" r="6.95"/><circle cx="225.6" cy="576.6" r="6.95"/><circle cx="114.1" cy="844.7" r="6.95"/><circle cx="514.8" cy="464.6" r="6.95"/><circle cx="535.9" cy="388.5" r="6.95"/><circle cx="112" cy="844.7" r="6.95"/><circle cx="151.7" cy="786.2" r="6.95"/><circle cx="147.6" cy="785.5" r="6.95"/><circle cx="477.3" cy="375.2" r="6.95"/><circle cx="112.3" cy="844.7" r="6.95"/><circle cx="532.2" cy="437.4" r="6.95"/><circle cx="254.4" cy="749" r="6.95"/><circle cx="319.2" cy="697.3" r="6.95"/><circle cx="111.6" cy="829.8" r="6.95"/><circle cx="360.5" cy="623.2" r="6.95"/><circle cx="197.3" cy="758.3" r="6.95"/><circle cx="700.2" cy="189.3" r="6.95"/><circle cx="675.6" cy="510.3" r="6.95"/><circle cx="117.1" cy="838.8" r="6.95"/><circle cx="180.1" cy="761.8" r="6.95"/><circle cx="305.6" cy="715.1" r="6.95"/><circle cx="303.2" cy="712.2" r="6.95"/><circle cx="557.7" cy="325" r="6.95"/><circle cx="165.8" cy="801.6" r="6.95"/><circle cx="116.6" cy="839.9" r="6.95"/><circle cx="206.8" cy="733.6" r="6.95"/><circle cx="146.6" cy="822.3" r="6.95"/><circle cx="124.9" cy="831.3" r="6.95"/><circle cx="150.1" cy="828" r="6.95"/><circle cx="524.7" cy="470.4" r="6.95"/><circle cx="493.5" cy="514.7" r="6.95"/><circle cx="183.1" cy="658" r="6.95"/><circle cx="129.6" cy="743.5" r="6.95"/><circle cx="424.2" cy="456.4" r="6.95"/><circle cx="112.9" cy="836.5" r="6.95"/><circle cx="306.8" cy="789.2" r="6.95"/><circle cx="557.6" cy="548" r="6.95"/><circle cx="326" cy="785.3" r="6.95"/><circle cx="457.2" cy="620.9" r="6.95"/><circle cx="137.2" cy="813" r="6.95"/><circle cx="190.4" cy="785" r="6.95"/><circle cx="471.7" cy="506.2" r="6.95"/><circle cx="465" cy="421.1" r="6.95"/><circle cx="346" cy="648.7" r="6.95"/><circle cx="471.3" cy="682.6" r="6.95"/><circle cx="572.7" cy="317.1" r="6.95"/><circle cx="549.4" cy="281.1" r="6.95"/><circle cx="605.1" cy="528.3" r="6.95"/><circle cx="161.6" cy="777.5" r="6.95"/><circle cx="136.8" cy="809.6" r="6.95"/><circle cx="113.2" cy="841.1" r="6.95"/><circle cx="118.4" cy="843.9" r="6.95"/><circle cx="118.6" cy="836.7" r="6.95"/><circle cx="156.6" cy="804.5" r="6.95"/><circle cx="136.2" cy="828.1" r="6.95"/><circle cx="359" cy="615.7" r="6.95"/><circle cx="112" cy="842.2" r="6.95"/><circle cx="160.9" cy="827.5" r="6.95"/><circle cx="121" cy="837" r="6.95"/><circle cx="144.9" cy="823.7" r="6.95"/><circle cx="210.5" cy="785.4" r="6.95"/><circle cx="389.7" cy="461.3" r="6.95"/><circle cx="677.3" cy="365.3" r="6.95"/><circle cx="361.6" cy="519.8" r="6.95"/><circle cx="142.8" cy="717.6" r="6.95"/><circle cx="301.5" cy="810.2" r="6.95"/><circle cx="273.6" cy="599.2" r="6.95"/><circle cx="356.7" cy="564.3" r="6.95"/><circle cx="542.1" cy="399" r="6.95"/><circle cx="268.5" cy="709.8" r="6.95"/><circle cx="114.7" cy="844.5" r="6.95"/><circle cx="302.8" cy="803.8" r="6.95"/><circle cx="348.7" cy="693.3" r="6.95"/><circle cx="675.6" cy="539.8" r="6.95"/><circle cx="111.7" cy="841.3" r="6.95"/><circle cx="115.5" cy="842.2" r="6.95"/><circle cx="132.2" cy="821.9" r="6.95"/><circle cx="150.2" cy="803.7" r="6.95"/><circle cx="120.1" cy="837.4" r="6.95"/><circle cx="202.1" cy="810.7" r="6.95"/><circle cx="142.3" cy="814.1" r="6.95"/><circle cx="199.9" cy="799.1" r="6.95"/><circle cx="486.3" cy="606.5" r="6.95"/><circle cx="279.7" cy="670.3" r="6.95"/><circle cx="244.8" cy="759.6" r="6.95"/><circle cx="154.5" cy="824.3" r="6.95"/><circle cx="131.2" cy="815.1" r="6.95"/><circle cx="111.7" cy="840" r="6.95"/><circle cx="680.6" cy="305.5" r="6.95"/><circle cx="119.2" cy="832.1" r="6.95"/><circle cx="278.8" cy="466.7" r="6.95"/><circle cx="372.5" cy="410.4" r="6.95"/><circle cx="339.3" cy="706.8" r="6.95"/><circle cx="247.2" cy="762.7" r="6.95"/><circle cx="157.5" cy="742.5" r="6.95"/><circle cx="125.1" cy="831.4" r="6.95"/><circle cx="495.3" cy="754.2" r="6.95"/><circle cx="268.5" cy="749.4" r="6.95"/><circle cx="116.8" cy="837.1" r="6.95"/><circle cx="460.5" cy="506.2" r="6.95"/><circle cx="261.9" cy="747.6" r="6.95"/><circle cx="142.9" cy="830.1" r="6.95"/><circle cx="513.3" cy="399.8" r="6.95"/><circle cx="326.5" cy="449.8" r="6.95"/><circle cx="112.9" cy="840.9" r="6.95"/><circle cx="511.2" cy="613.1" r="6.95"/><circle cx="210" cy="717.7" r="6.95"/><circle cx="113.4" cy="842" r="6.95"/><circle cx="184.3" cy="665.9" r="6.95"/><circle cx="432.6" cy="653.9" r="6.95"/><circle cx="445.3" cy="284.4" r="6.95"/><circle cx="647.8" cy="544.7" r="6.95"/><circle cx="111.9" cy="843.7" r="6.95"/><circle cx="170.5" cy="714.8" r="6.95"/><circle cx="604.3" cy="729.3" r="6.95"/><circle cx="339.4" cy="795.8" r="6.95"/><circle cx="147.2" cy="824.6" r="6.95"/><circle cx="203.6" cy="712.2" r="6.95"/><circle cx="338.9" cy="367" r="6.95"/><circle cx="122.3" cy="834.7" r="6.95"/><circle cx="653.5" cy="243.4" r="6.95"/><circle cx="188.6" cy="817.6" r="6.95"/><circle cx="430.7" cy="675.6" r="6.95"/><circle cx="116.2" cy="843.9" r="6.95"/><circle cx="175.3" cy="821.8" r="6.95"/><circle cx="706.8" cy="146.6" r="6.95"/><circle cx="439.2" cy="600.8" r="6.95"/><circle cx="116.1" cy="839.4" r="6.95"/><circle cx="420.7" cy="755" r="6.95"/><circle cx="366" cy="690.1" r="6.95"/><circle cx="186.7" cy="781.5" r="6.95"/><circle cx="116.8" cy="842" r="6.95"/><circle cx="132.2" cy="832.9" r="6.95"/><circle cx="111.3" cy="843.5" r="6.95"/><circle cx="324.3" cy="638" r="6.95"/><circle cx="596.1" cy="201.1" r="6.95"/><circle cx="621.5" cy="281.1" r="6.95"/><circle cx="616.6" cy="571.6" r="6.95"/><circle cx="565.8" cy="543" r="6.95"/><circle cx="166" cy="713.4" r="6.95"/><circle cx="360" cy="555.3" r="6.95"/><circle cx="116.9" cy="838.4" r="6.95"/><circle cx="672.4" cy="610.1" r="6.95"/><circle cx="687.1" cy="243.4" r="6.95"/><circle cx="246.8" cy="732.6" r="6.95"/><circle cx="111.6" cy="839.9" r="6.95"/><circle cx="163.1" cy="735.3" r="6.95"/><circle cx="413.4" cy="682.9" r="6.95"/><circle cx="327.9" cy="620.4" r="6.95"/><circle cx="284.2" cy="679.4" r="6.95"/><circle cx="385.6" cy="673.4" r="6.95"/><circle cx="144.9" cy="829" r="6.95"/><circle cx="141.3" cy="825.7" r="6.95"/><circle cx="252" cy="588" r="6.95"/><circle cx="215.7" cy="634.6" r="6.95"/><circle cx="129" cy="817" r="6.95"/><circle cx="307.2" cy="744.4" r="6.95"/><circle cx="282.1" cy="655.3" r="6.95"/><circle cx="453.3" cy="635.8" r="6.95"/><circle cx="333.6" cy="548.7" r="6.95"/><circle cx="486.5" cy="517.2" r="6.95"/><circle cx="190.3" cy="795.1" r="6.95"/><circle cx="166.9" cy="751.7" r="6.95"/><circle cx="498.1" cy="673.7" r="6.95"/><circle cx="327.4" cy="463.4" r="6.95"/><circle cx="452.1" cy="536" r="6.95"/><circle cx="226.4" cy="586" r="6.95"/><circle cx="207.7" cy="787.5" r="6.95"/><circle cx="139.4" cy="824.6" r="6.95"/><circle cx="440" cy="506.3" r="6.95"/><circle cx="308.6" cy="481.1" r="6.95"/><circle cx="231" cy="754.7" r="6.95"/><circle cx="128.6" cy="818.7" r="6.95"/><circle cx="545.3" cy="665.3" r="6.95"/><circle cx="112.4" cy="841.1" r="6.95"/><circle cx="120.9" cy="838.7" r="6.95"/><circle cx="138.2" cy="822.5" r="6.95"/><circle cx="629.1" cy="307.9" r="6.95"/><circle cx="293.3" cy="746.8" r="6.95"/><circle cx="628.1" cy="448" r="6.95"/><circle cx="509.8" cy="673.7" r="6.95"/><circle cx="114.7" cy="842" r="6.95"/><circle cx="466.7" cy="690.5" r="6.95"/><circle cx="112" cy="844.7" r="6.95"/><circle cx="303.2" cy="549.5" r="6.95"/><circle cx="365.2" cy="656.3" r="6.95"/><circle cx="263.6" cy="699" r="6.95"/><circle cx="197.9" cy="772.3" r="6.95"/><circle cx="425.8" cy="602.2" r="6.95"/><circle cx="148.8" cy="811.8" r="6.95"/><circle cx="342.2" cy="568.3" r="6.95"/><circle cx="467.6" cy="664" r="6.95"/><circle cx="113.7" cy="839.4" r="6.95"/><circle cx="207.6" cy="752.8" r="6.95"/><circle cx="628.1" cy="610.9" r="6.95"/><circle cx="208.3" cy="767.1" r="6.95"/><circle cx="111.3" cy="840.5" r="6.95"/><circle cx="475.9" cy="589.7" r="6.95"/><circle cx="419" cy="675.6" r="6.95"/><circle cx="473.9" cy="535" r="6.95"/><circle cx="592" cy="589.6" r="6.95"/><circle cx="119.6" cy="831.1" r="6.95"/><circle cx="212.9" cy="720.6" r="6.95"/><circle cx="178.5" cy="814.2" r="6.95"/><circle cx="124.1" cy="837.5" r="6.95"/><circle cx="112.8" cy="844.7" r="6.95"/><circle cx="272.9" cy="653" r="6.95"/><circle cx="114.6" cy="843.2" r="6.95"/><circle cx="195.2" cy="789.5" r="6.95"/><circle cx="113.4" cy="843" r="6.95"/><circle cx="112.8" cy="841.4" r="6.95"/><circle cx="337.9" cy="574" r="6.95"/><circle cx="382.3" cy="409.3" r="6.95"/><circle cx="111.5" cy="844.7" r="6.95"/><circle cx="396.9" cy="721.4" r="6.95"/><circle cx="612.5" cy="664.2" r="6.95"/><circle cx="146.8" cy="797.9" r="6.95"/><circle cx="248.1" cy="673" r="6.95"/><circle cx="122.6" cy="835.4" r="6.95"/><circle cx="113.1" cy="844.7" r="6.95"/><circle cx="264.4" cy="565.2" r="6.95"/><circle cx="185.3" cy="771.3" r="6.95"/><circle cx="222.2" cy="823.5" r="6.95"/><circle cx="243.8" cy="490.3" r="6.95"/><circle cx="317.8" cy="728.7" r="6.95"/><circle cx="139.9" cy="795.4" r="6.95"/><circle cx="627.5" cy="375.8" r="6.95"/><circle cx="393.1" cy="688.7" r="6.95"/><circle cx="111.5" cy="841.7" r="6.95"/><circle cx="190" cy="758.3" r="6.95"/><circle cx="534.6" cy="436.5" r="6.95"/><circle cx="193.3" cy="777.7" r="6.95"/><circle cx="327" cy="765.5" r="6.95"/><circle cx="160.7" cy="832" r="6.95"/><circle cx="340.2" cy="657.3" r="6.95"/><circle cx="196.7" cy="782.4" r="6.95"/><circle cx="241.2" cy="713.8" r="6.95"/><circle cx="121.5" cy="838.2" r="6.95"/><circle cx="113.2" cy="841.3" r="6.95"/><circle cx="610.5" cy="324" r="6.95"/><circle cx="178.3" cy="759.6" r="6.95"/><circle cx="257.1" cy="729.2" r="6.95"/><circle cx="309.8" cy="666.9" r="6.95"/><circle cx="150.7" cy="815.6" r="6.95"/><circle cx="187.6" cy="769.3" r="6.95"/><circle cx="171.2" cy="780.7" r="6.95"/><circle cx="651.4" cy="261.4" r="6.95"/><circle cx="111.3" cy="844.7" r="6.95"/><circle cx="305.8" cy="647.7" r="6.95"/><circle cx="255.3" cy="768.3" r="6.95"/><circle cx="353.4" cy="741.6" r="6.95"/><circle cx="379" cy="496.7" r="6.95"/><circle cx="389.7" cy="294" r="6.95"/><circle cx="156.6" cy="798.7" r="6.95"/><circle cx="142.6" cy="767.4" r="6.95"/><circle cx="181.4" cy="775.8" r="6.95"/><circle cx="227.5" cy="746.4" r="6.95"/><circle cx="197.3" cy="803.1" r="6.95"/><circle cx="201" cy="777.2" r="6.95"/><circle cx="389.2" cy="668.1" r="6.95"/><circle cx="149.2" cy="804" r="6.95"/><circle cx="417.4" cy="652.9" r="6.95"/><circle cx="231.3" cy="785.3" r="6.95"/><circle cx="523.2" cy="603.1" r="6.95"/><circle cx="308.9" cy="649.5" r="6.95"/><circle cx="504.9" cy="472.1" r="6.95"/><circle cx="313.5" cy="688.2" r="6.95"/><circle cx="313.1" cy="703.1" r="6.95"/><circle cx="182.6" cy="686.6" r="6.95"/><circle cx="626.5" cy="249.9" r="6.95"/><circle cx="137.5" cy="828.5" r="6.95"/><circle cx="113.5" cy="840.9" r="6.95"/><circle cx="430.5" cy="757.5" r="6.95"/><circle cx="357.2" cy="749.6" r="6.95"/><circle cx="578.9" cy="407.2" r="6.95"/><circle cx="411.7" cy="735.3" r="6.95"/><circle cx="496.6" cy="605.4" r="6.95"/><circle cx="287.4" cy="628.9" r="6.95"/><circle cx="227.4" cy="721.7" r="6.95"/><circle cx="112.3" cy="839.4" r="6.95"/><circle cx="126.5" cy="700" r="6.95"/><circle cx="113" cy="842.2" r="6.95"/><circle cx="229.4" cy="700.6" r="6.95"/><circle cx="111.8" cy="844.7" r="6.95"/><circle cx="148.8" cy="809.9" r="6.95"/><circle cx="405.1" cy="708.3" r="6.95"/><circle cx="222.8" cy="748.5" r="6.95"/><circle cx="305.1" cy="640.5" r="6.95"/><circle cx="151.2" cy="789.6" r="6.95"/><circle cx="191.6" cy="780.8" r="6.95"/><circle cx="131.5" cy="813.7" r="6.95"/><circle cx="309.5" cy="638.9" r="6.95"/><circle cx="306.5" cy="557.7" r="6.95"/><circle cx="118.5" cy="833.8" r="6.95"/><circle cx="113.5" cy="844.7" r="6.95"/><circle cx="567.4" cy="759.1" r="6.95"/><circle cx="445.6" cy="673.4" r="6.95"/><circle cx="328.2" cy="704.3" r="6.95"/><circle cx="342.6" cy="750.4" r="6.95"/><circle cx="267.7" cy="769.1" r="6.95"/><circle cx="194" cy="590.3" r="6.95"/><circle cx="201.7" cy="746.2" r="6.95"/><circle cx="399.4" cy="392.4" r="6.95"/><circle cx="135.9" cy="814" r="6.95"/><circle cx="151.5" cy="833.8" r="6.95"/><circle cx="133.6" cy="822.9" r="6.95"/><circle cx="702.7" cy="231.9" r="6.95"/><circle cx="113.1" cy="844.1" r="6.95"/><circle cx="359.6" cy="490.2" r="6.95"/><circle cx="166.5" cy="783.8" r="6.95"/><circle cx="696.1" cy="463.5" r="6.95"/><circle cx="223.4" cy="799.1" r="6.95"/><circle cx="133.1" cy="819.9" r="6.95"/><circle cx="177.5" cy="835.8" r="6.95"/><circle cx="383.2" cy="595.9" r="6.95"/><circle cx="170.7" cy="740.3" r="6.95"/><circle cx="326.1" cy="551.1" r="6.95"/><circle cx="407.1" cy="601.2" r="6.95"/><circle cx="230.3" cy="662.6" r="6.95"/><circle cx="392.1" cy="687" r="6.95"/><circle cx="186.9" cy="800.2" r="6.95"/><circle cx="254.4" cy="710" r="6.95"/><circle cx="347.8" cy="641.2" r="6.95"/><circle cx="657.9" cy="372.5" r="6.95"/><circle cx="177" cy="829.8" r="6.95"/><circle cx="116.5" cy="842.9" r="6.95"/><circle cx="586.3" cy="608.4" r="6.95"/><circle cx="146" cy="803.4" r="6.95"/><circle cx="116.2" cy="836.2" r="6.95"/><circle cx="268.9" cy="827.7" r="6.95"/><circle cx="637.9" cy="506.2" r="6.95"/><circle cx="111.7" cy="844.7" r="6.95"/><circle cx="467.5" cy="632.1" r="6.95"/><circle cx="154.4" cy="738.8" r="6.95"/><circle cx="179" cy="754.5" r="6.95"/><circle cx="122.8" cy="836" r="6.95"/><circle cx="198.9" cy="749.5" r="6.95"/><circle cx="112.3" cy="832.6" r="6.95"/><circle cx="219.1" cy="649" r="6.95"/><circle cx="511.8" cy="516.2" r="6.95"/><circle cx="622.7" cy="374.9" r="6.95"/><circle cx="345.4" cy="586" r="6.95"/><circle cx="222" cy="672.1" r="6.95"/><circle cx="549.4" cy="510.3" r="6.95"/><circle cx="251" cy="752.4" r="6.95"/><circle cx="135.2" cy="825" r="6.95"/><circle cx="112.1" cy="841.3" r="6.95"/><circle cx="181.6" cy="730.9" r="6.95"/><circle cx="346.5" cy="688.1" r="6.95"/><circle cx="403" cy="580.5" r="6.95"/><circle cx="138.2" cy="820.7" r="6.95"/><circle cx="111.7" cy="843.7" r="6.95"/><circle cx="280.7" cy="718.2" r="6.95"/><circle cx="216.3" cy="731.8" r="6.95"/><circle cx="537.9" cy="400.3" r="6.95"/><circle cx="222" cy="670.9" r="6.95"/><circle cx="293" cy="724.4" r="6.95"/><circle cx="498.5" cy="663.8" r="6.95"/><circle cx="656" cy="519.3" r="6.95"/><circle cx="129.3" cy="826.7" r="6.95"/><circle cx="129.7" cy="810.6" r="6.95"/><circle cx="578.9" cy="488.1" r="6.95"/><circle cx="499.4" cy="750.1" r="6.95"/><circle cx="245.1" cy="772.6" r="6.95"/><circle cx="111.8" cy="844.6" r="6.95"/><circle cx="326" cy="813.7" r="6.95"/><circle cx="116.9" cy="840.4" r="6.95"/><circle cx="137.7" cy="811.9" r="6.95"/><circle cx="431" cy="421.1" r="6.95"/><circle cx="194.4" cy="754.9" r="6.95"/><circle cx="343.1" cy="701.1" r="6.95"/><circle cx="291" cy="748" r="6.95"/><circle cx="287.8" cy="657.4" r="6.95"/><circle cx="374.4" cy="613.8" r="6.95"/><circle cx="127.4" cy="816.5" r="6.95"/><circle cx="478.5" cy="448.9" r="6.95"/><circle cx="534.6" cy="589.6" r="6.95"/><circle cx="146.6" cy="805.6" r="6.95"/><circle cx="272.2" cy="804.9" r="6.95"/><circle cx="457.3" cy="689.5" r="6.95"/><circle cx="622.4" cy="376.9" r="6.95"/><circle cx="119.9" cy="839.5" r="6.95"/><circle cx="116.8" cy="841" r="6.95"/><circle cx="112.5" cy="843.1" r="6.95"/><circle cx="582.9" cy="391.9" r="6.95"/><circle cx="173.4" cy="807.2" r="6.95"/><circle cx="152.3" cy="818.3" r="6.95"/><circle cx="601.9" cy="596.2" r="6.95"/><circle cx="269.9" cy="767.4" r="6.95"/><circle cx="367.5" cy="734.1" r="6.95"/><circle cx="114.4" cy="844.7" r="6.95"/><circle cx="212.4" cy="795.7" r="6.95"/><circle cx="391.8" cy="639.5" r="6.95"/><circle cx="259.1" cy="669.7" r="6.95"/><circle cx="212.3" cy="789.8" r="6.95"/><circle cx="276.2" cy="766" r="6.95"/><circle cx="586.9" cy="390.3" r="6.95"/><circle cx="397.4" cy="616.4" r="6.95"/><circle cx="116.3" cy="839.4" r="6.95"/><circle cx="502.4" cy="586" r="6.95"/><circle cx="132.4" cy="806" r="6.95"/><circle cx="540.4" cy="267.1" r="6.95"/><circle cx="654.3" cy="501.2" r="6.95"/><circle cx="214.8" cy="737.2" r="6.95"/><circle cx="247.8" cy="769.8" r="6.95"/><circle cx="469.8" cy="521.1" r="6.95"/><circle cx="194.2" cy="759.9" r="6.95"/><circle cx="114.9" cy="839.3" r="6.95"/><circle cx="493.7" cy="620.5" r="6.95"/><circle cx="657.7" cy="315.5" r="6.95"/><circle cx="638" cy="337.8" r="6.95"/><circle cx="282.3" cy="380.1" r="6.95"/><circle cx="267.3" cy="709.1" r="6.95"/><circle cx="498.6" cy="656.6" r="6.95"/><circle cx="322.6" cy="590.6" r="6.95"/><circle cx="678.1" cy="287.5" r="6.95"/><circle cx="216" cy="778.8" r="6.95"/><circle cx="261.1" cy="778.9" r="6.95"/><circle cx="133" cy="824.5" r="6.95"/><circle cx="112.2" cy="843.5" r="6.95"/><circle cx="572.3" cy="449.6" r="6.95"/><circle cx="127.3" cy="811.6" r="6.95"/><circle cx="166.6" cy="761.3" r="6.95"/><circle cx="137.3" cy="820.3" r="6.95"/><circle cx="489.6" cy="622.9" r="6.95"/><circle cx="120.3" cy="724" r="6.95"/><circle cx="202.3" cy="747.8" r="6.95"/><circle cx="369.5" cy="482" r="6.95"/><circle cx="276" cy="693.7" r="6.95"/><circle cx="252.8" cy="768.1" r="6.95"/><circle cx="175.8" cy="811.3" r="6.95"/><circle cx="245.9" cy="639.3" r="6.95"/><circle cx="489.2" cy="432.4" r="6.95"/><circle cx="519.2" cy="649.5" r="6.95"/><circle cx="143.8" cy="586.9" r="6.95"/><circle cx="361.5" cy="794.5" r="6.95"/><circle cx="461.6" cy="556" r="6.95"/><circle cx="532.2" cy="412.9" r="6.95"/><circle cx="173.9" cy="765.4" r="6.95"/><circle cx="488.4" cy="493.5" r="6.95"/><circle cx="256.6" cy="819.8" r="6.95"/><circle cx="607.2" cy="337" r="6.95"/><circle cx="125.5" cy="833" r="6.95"/><circle cx="677.3" cy="543" r="6.95"/><circle cx="119" cy="837.1" r="6.95"/><circle cx="616" cy="410.4" r="6.95"/><circle cx="111.6" cy="837.6" r="6.95"/><circle cx="211" cy="800.1" r="6.95"/><circle cx="439.9" cy="669.2" r="6.95"/><circle cx="433.3" cy="448.1" r="6.95"/><circle cx="556.8" cy="605.2" r="6.95"/><circle cx="513.3" cy="421.1" r="6.95"/><circle cx="289.4" cy="602.4" r="6.95"/><circle cx="302.1" cy="738.2" r="6.95"/><circle cx="200.1" cy="749.1" r="6.95"/><circle cx="206.5" cy="685.6" r="6.95"/><circle cx="202.3" cy="669.6" r="6.95"/><circle cx="409.3" cy="448.5" r="6.95"/><circle cx="260.4" cy="709" r="6.95"/><circle cx="316.6" cy="600" r="6.95"/><circle cx="488.3" cy="497.6" r="6.95"/><circle cx="201.7" cy="841.6" r="6.95"/><circle cx="189.5" cy="818.5" r="6.95"/><circle cx="135.5" cy="688.6" r="6.95"/><circle cx="243.8" cy="793.6" r="6.95"/><circle cx="191.6" cy="764.9" r="6.95"/><circle cx="338.5" cy="699.3" r="6.95"/><circle cx="239.8" cy="728.7" r="6.95"/><circle cx="515.5" cy="504.8" r="6.95"/><circle cx="253.9" cy="662.2" r="6.95"/><circle cx="147.7" cy="769" r="6.95"/><circle cx="251.8" cy="679" r="6.95"/><circle cx="173.7" cy="754.7" r="6.95"/><circle cx="284.2" cy="542.1" r="6.95"/><circle cx="234.3" cy="496.3" r="6.95"/><circle cx="637.1" cy="658.5" r="6.95"/><circle cx="519.1" cy="406.3" r="6.95"/><circle cx="220.9" cy="765.9" r="6.95"/><circle cx="161.4" cy="808.3" r="6.95"/><circle cx="536.3" cy="552.9" r="6.95"/><circle cx="273.7" cy="690.5" r="6.95"/><circle cx="373.6" cy="702.3" r="6.95"/><circle cx="182.9" cy="706.3" r="6.95"/><circle cx="259.4" cy="752.6" r="6.95"/><circle cx="577.3" cy="440.6" r="6.95"/><circle cx="150.1" cy="804.9" r="6.95"/><circle cx="135.7" cy="825.6" r="6.95"/><circle cx="527.7" cy="635" r="6.95"/><circle cx="128.2" cy="830.5" r="6.95"/><circle cx="204.2" cy="717.4" r="6.95"/><circle cx="644.5" cy="282.7" r="6.95"/><circle cx="344.7" cy="689.3" r="6.95"/><circle cx="112.3" cy="844.7" r="6.95"/><circle cx="247.6" cy="703.1" r="6.95"/><circle cx="670.4" cy="393.6" r="6.95"/><circle cx="244.5" cy="688.7" r="6.95"/><circle cx="145" cy="819.7" r="6.95"/><circle cx="396.8" cy="647.1" r="6.95"/><circle cx="200.5" cy="762.8" r="6.95"/><circle cx="424.6" cy="617.8" r="6.95"/><circle cx="344.5" cy="605.7" r="6.95"/><circle cx="174.2" cy="802.7" r="6.95"/><circle cx="705.2" cy="236.8" r="6.95"/><circle cx="463.3" cy="501.6" r="6.95"/><circle cx="562.6" cy="413.3" r="6.95"/><circle cx="113.7" cy="836.5" r="6.95"/><circle cx="342.7" cy="664.4" r="6.95"/><circle cx="148.6" cy="814.3" r="6.95"/><circle cx="249.4" cy="648.5" r="6.95"/><circle cx="278.5" cy="706.9" r="6.95"/><circle cx="318.5" cy="714.2" r="6.95"/><circle cx="121.1" cy="831.4" r="6.95"/><circle cx="161.2" cy="800.2" r="6.95"/><circle cx="544.5" cy="736.2" r="6.95"/><circle cx="288.1" cy="756.9" r="6.95"/><circle cx="372.7" cy="677.6" r="6.95"/><circle cx="319.9" cy="696.9" r="6.95"/><circle cx="236.2" cy="818" r="6.95"/><circle cx="113.9" cy="755.3" r="6.95"/><circle cx="116.5" cy="844.1" r="6.95"/><circle cx="652.7" cy="240.1" r="6.95"/><circle cx="112" cy="826.5" r="6.95"/><circle cx="174.7" cy="804.5" r="6.95"/><circle cx="200.6" cy="793.5" r="6.95"/><circle cx="217.2" cy="674.9" r="6.95"/><circle cx="138" cy="823.4" r="6.95"/><circle cx="192.1" cy="748.2" r="6.95"/><circle cx="233.1" cy="662.5" r="6.95"/><circle cx="654.5" cy="313.8" r="6.95"/><circle cx="112" cy="841.9" r="6.95"/><circle cx="210.6" cy="700.5" r="6.95"/><circle cx="155.6" cy="820.6" r="6.95"/><circle cx="328.3" cy="659.7" r="6.95"/><circle cx="200" cy="755.2" r="6.95"/><circle cx="133.9" cy="816.8" r="6.95"/><circle cx="161.5" cy="810.1" r="6.95"/><circle cx="113.1" cy="842.6" r="6.95"/><circle cx="231.8" cy="742.4" r="6.95"/><circle cx="116.9" cy="839.8" r="6.95"/><circle cx="148.6" cy="823" r="6.95"/><circle cx="616.6" cy="549.6" r="6.95"/><circle cx="274.2" cy="696.2" r="6.95"/><circle cx="358.1" cy="615.9" r="6.95"/><circle cx="412" cy="667.9" r="6.95"/><circle cx="116.3" cy="840.8" r="6.95"/><circle cx="371.5" cy="557.7" r="6.95"/><circle cx="138.3" cy="821.3" r="6.95"/><circle cx="303.1" cy="601.9" r="6.95"/><circle cx="111.3" cy="844.3" r="6.95"/><circle cx="251.4" cy="662.3" r="6.95"/><circle cx="570.7" cy="578.1" r="6.95"/><circle cx="111.3" cy="844.7" r="6.95"/><circle cx="675.6" cy="380.1" r="6.95"/><circle cx="650.2" cy="672.4" r="6.95"/><circle cx="291.8" cy="572.7" r="6.95"/><circle cx="386.7" cy="599.4" r="6.95"/><circle cx="410.9" cy="688.6" r="6.95"/><circle cx="189.6" cy="789.5" r="6.95"/><circle cx="225.7" cy="574.6" r="6.95"/><circle cx="272.9" cy="770.7" r="6.95"/><circle cx="286.3" cy="633.5" r="6.95"/><circle cx="346.8" cy="554.4" r="6.95"/><circle cx="141.9" cy="829.3" r="6.95"/><circle cx="116.7" cy="833.8" r="6.95"/><circle cx="157.2" cy="800.6" r="6.95"/><circle cx="265.7" cy="697.8" r="6.95"/><circle cx="442.5" cy="387.1" r="6.95"/><circle cx="153.2" cy="824.3" r="6.95"/><circle cx="455.6" cy="777.1" r="6.95"/><circle cx="333.6" cy="732.9" r="6.95"/><circle cx="205.9" cy="680.4" r="6.95"/><circle cx="247" cy="767.7" r="6.95"/><circle cx="158.8" cy="775.5" r="6.95"/><circle cx="502.8" cy="649.7" r="6.95"/><circle cx="177.8" cy="738.9" r="6.95"/><circle cx="211" cy="793.1" r="6.95"/><circle cx="457.2" cy="576.7" r="6.95"/><circle cx="182.1" cy="801.1" r="6.95"/><circle cx="336.6" cy="643.6" r="6.95"/><circle cx="468.9" cy="585.7" r="6.95"/><circle cx="314.3" cy="606.8" r="6.95"/><circle cx="113.8" cy="840.7" r="6.95"/><circle cx="114.3" cy="840.6" r="6.95"/><circle cx="145.3" cy="833.9" r="6.95"/><circle cx="627.6" cy="295.6" r="6.95"/><circle cx="162.4" cy="811.5" r="6.95"/><circle cx="716.3" cy="215.5" r="6.95"/><circle cx="202.6" cy="808.7" r="6.95"/><circle cx="191" cy="773.1" r="6.95"/><circle cx="364" cy="403" r="6.95"/><circle cx="134" cy="743.9" r="6.95"/><circle cx="271.4" cy="757" r="6.95"/><circle cx="465.3" cy="650.3" r="6.95"/><circle cx="252.2" cy="790.4" r="6.95"/><circle cx="224.7" cy="714.6" r="6.95"/><circle cx="559.2" cy="549.6" r="6.95"/><circle cx="183.2" cy="758.9" r="6.95"/><circle cx="115.5" cy="835.4" r="6.95"/><circle cx="242.8" cy="782.8" r="6.95"/><circle cx="272.6" cy="484.9" r="6.95"/><circle cx="150.4" cy="814" r="6.95"/><circle cx="194.3" cy="659.9" r="6.95"/><circle cx="349" cy="588.5" r="6.95"/><circle cx="333" cy="633.1" r="6.95"/><circle cx="113.5" cy="842.5" r="6.95"/><circle cx="473.9" cy="651.6" r="6.95"/><circle cx="569.7" cy="375.6" r="6.95"/><circle cx="133.1" cy="804.1" r="6.95"/><circle cx="147.6" cy="766.5" r="6.95"/><circle cx="132.2" cy="823.1" r="6.95"/><circle cx="160.5" cy="646.3" r="6.95"/><circle cx="120" cy="834.8" r="6.95"/><circle cx="111.9" cy="843.7" r="6.95"/></g><path d="M111.35 819.63L722.29 344.19" stroke="#ff0000" stroke-opacity="0.35" stroke-width="4.17" stroke-linecap="round" fill="none"/><path d="M69.17 887.39L884.69 75.39" stroke="#0000ff" stroke-opacity="0.35" stroke-width="4.17" fill="none"/></g><rect x="75.5" y="110.5" width="775.0" height="770.0" fill="none" stroke="#000" stroke-width="1.11"/><path d="M111.5 880.5v5.4M75.5 845.5h-5.4M251.5 880.5v5.4M75.5 705.5h-5.4M392.5 880.5v5.4M75.5 565.5h-5.4M533.5 880.5v5.4M75.5 425.5h-5.4M673.5 880.5v5.4M75.5 285.5h-5.4M814.5 880.5v5.4M75.5 145.5h-5.4" stroke="#000" stroke-width="1.11" fill="none"/><text x="111.3" y="901" font-size="13.89" letter-spacing="-0.35" text-anchor="middle">0</text><text x="64.8" y="851.4" font-size="13.89" letter-spacing="-0.35" text-anchor="end">0</text><text x="252.0" y="901" font-size="13.89" letter-spacing="-0.35" text-anchor="middle">200</text><text x="64.8" y="711.4" font-size="13.89" letter-spacing="-0.35" text-anchor="end">200</text><text x="392.6" y="901" font-size="13.89" letter-spacing="-0.35" text-anchor="middle">400</text><text x="64.8" y="571.4" font-size="13.89" letter-spacing="-0.35" text-anchor="end">400</text><text x="533.2" y="901" font-size="13.89" letter-spacing="-0.35" text-anchor="middle">600</text><text x="64.8" y="431.4" font-size="13.89" letter-spacing="-0.35" text-anchor="end">600</text><text x="673.8" y="901" font-size="13.89" letter-spacing="-0.35" text-anchor="middle">800</text><text x="64.8" y="291.4" font-size="13.89" letter-spacing="-0.35" text-anchor="end">800</text><text x="814.4" y="901" font-size="13.89" letter-spacing="-0.35" text-anchor="middle">1000</text><text x="64.8" y="151.4" font-size="13.89" letter-spacing="-0.35" text-anchor="end">1000</text><text x="462.5" y="920.6" font-size="16.67" text-anchor="middle">Simulated</text><text transform="translate(22.4 496.1) rotate(-90)" font-size="16.67" text-anchor="middle">Observed</text><text y="25.1" font-size="19.6"><tspan x="148.8">X-Y</tspan> <tspan x="187">plot</tspan> <tspan x="231.3">at</tspan> <tspan x="256.7" letter-spacing="-0.1">is.landsvirkjun.myra</tspan> <tspan x="459.8">for</tspan> <tspan x="492.5" letter-spacing="-0.03">downward_shortwave_flux</tspan></text><text y="47.7" font-size="19.6"><tspan x="311.4">from</tspan> <tspan x="362.5" letter-spacing="-0.12">rav2-15-16</tspan> <tspan x="476.6">during</tspan> <tspan x="544.9" letter-spacing="-0.3">year</tspan></text></svg></body></html>
